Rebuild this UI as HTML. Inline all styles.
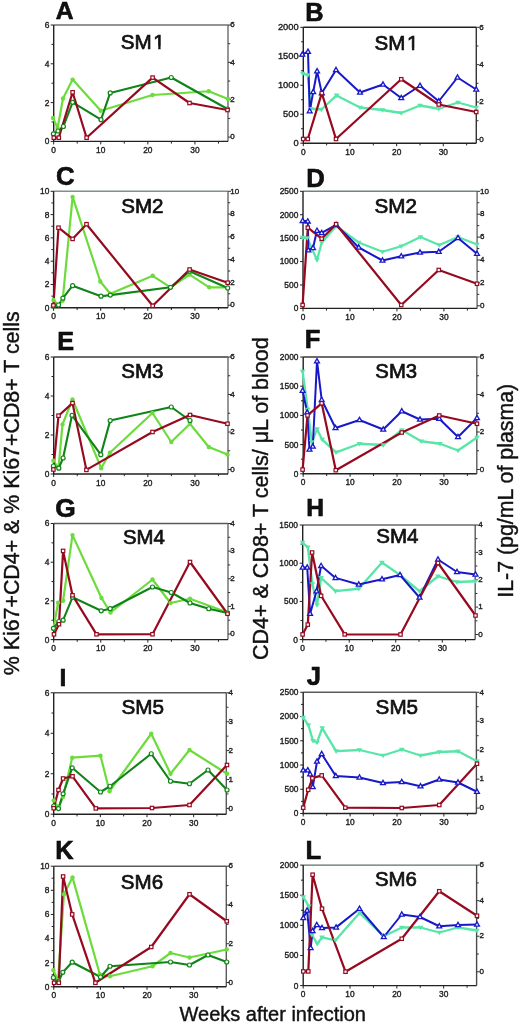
<!DOCTYPE html>
<html><head><meta charset="utf-8"><style>
html,body{margin:0;padding:0;background:#fff;width:520px;height:1024px;overflow:hidden}
svg{display:block;font-family:"Liberation Sans", sans-serif;fill:#111;will-change:transform}
svg text{fill:#111}
.tk{stroke:#222;stroke-width:0.35px}
.ti{stroke:#111;stroke-width:0.75px}
.le{stroke:#000;stroke-width:0.6px}
.ax{stroke:#111;stroke-width:0.4px}
</style></head><body>
<svg width="520" height="1024" viewBox="0 0 520 1024">
<rect width="520" height="1024" fill="#fff"/>
<g><path d="M53.7 25H228" fill="none" stroke="#707070" stroke-width="1.4"/><path d="M228 25V141.4" fill="none" stroke="#6a6a6a" stroke-width="1.4"/><path d="M53.7 25V141.4H228" fill="none" stroke="#222" stroke-width="1.4"/><path d="M50.7 141.4H53.7" stroke="#222" stroke-width="1"/><text transform="translate(49.4 144.3) scale(1.0 1)" text-anchor="end" font-size="8.4" class="tk">0</text><path d="M51.5 122H53.7" stroke="#222" stroke-width="1"/><path d="M50.7 102.6H53.7" stroke="#222" stroke-width="1"/><text transform="translate(49.4 105.5) scale(1.0 1)" text-anchor="end" font-size="8.4" class="tk">2</text><path d="M51.5 83.2H53.7" stroke="#222" stroke-width="1"/><path d="M50.7 63.8H53.7" stroke="#222" stroke-width="1"/><text transform="translate(49.4 66.7) scale(1.0 1)" text-anchor="end" font-size="8.4" class="tk">4</text><path d="M51.5 44.4H53.7" stroke="#222" stroke-width="1"/><path d="M50.7 25H53.7" stroke="#222" stroke-width="1"/><text transform="translate(49.4 27.9) scale(1.0 1)" text-anchor="end" font-size="8.4" class="tk">6</text><path d="M228 137.1H231" stroke="#333" stroke-width="1"/><text transform="translate(230.3 139.3) scale(1.0 1)" font-size="8.0" class="tk">0</text><path d="M228 118.42H230.2" stroke="#333" stroke-width="1"/><path d="M228 99.73H231" stroke="#333" stroke-width="1"/><text transform="translate(230.3 101.93) scale(1.0 1)" font-size="8.0" class="tk">2</text><path d="M228 81.05H230.2" stroke="#333" stroke-width="1"/><path d="M228 62.37H231" stroke="#333" stroke-width="1"/><text transform="translate(230.3 64.57) scale(1.0 1)" font-size="8.0" class="tk">4</text><path d="M228 43.68H230.2" stroke="#333" stroke-width="1"/><path d="M228 25H231" stroke="#333" stroke-width="1"/><text transform="translate(230.3 27.2) scale(1.0 1)" font-size="8.0" class="tk">6</text><path d="M53.7 141.4V144.4" stroke="#222" stroke-width="1"/><text transform="translate(53.7 153) scale(1.0 1)" text-anchor="middle" font-size="8.4" class="tk">0</text><path d="M77.23 141.4V143.6" stroke="#222" stroke-width="1"/><path d="M100.77 141.4V144.4" stroke="#222" stroke-width="1"/><text transform="translate(100.77 153) scale(1.0 1)" text-anchor="middle" font-size="8.4" class="tk">10</text><path d="M124.31 141.4V143.6" stroke="#222" stroke-width="1"/><path d="M147.84 141.4V144.4" stroke="#222" stroke-width="1"/><text transform="translate(147.84 153) scale(1.0 1)" text-anchor="middle" font-size="8.4" class="tk">20</text><path d="M171.38 141.4V143.6" stroke="#222" stroke-width="1"/><path d="M194.91 141.4V144.4" stroke="#222" stroke-width="1"/><text transform="translate(194.91 153) scale(1.0 1)" text-anchor="middle" font-size="8.4" class="tk">30</text><path d="M218.44 141.4V143.6" stroke="#222" stroke-width="1"/><path d="M53 118 L57.6 128 L63 98.5 L72.6 79.6 L100.8 110.8 L152.5 95 L208.75 91.25 L228 99" fill="none" stroke="#6cdc3c" stroke-width="2.2" stroke-linejoin="round"/><path d="M53.4 133.8 L58 131 L63.4 126.5 L72.6 102.3 L101 119.7 L110.2 92.9 L171.25 77.5 L227.5 109" fill="none" stroke="#108418" stroke-width="2.1" stroke-linejoin="round"/><path d="M53.8 137.7 L58.8 137.7 L72.6 92.3 L86.6 137.7 L152.6 77.6 L189.5 103 L227.5 110" fill="none" stroke="#960a20" stroke-width="2.2" stroke-linejoin="round"/><circle cx="53" cy="118" r="2.2" fill="#6cdc3c"/><circle cx="57.6" cy="128" r="2.2" fill="#6cdc3c"/><circle cx="63" cy="98.5" r="2.2" fill="#6cdc3c"/><circle cx="72.6" cy="79.6" r="2.2" fill="#6cdc3c"/><circle cx="100.8" cy="110.8" r="2.2" fill="#6cdc3c"/><circle cx="152.5" cy="95" r="2.2" fill="#6cdc3c"/><circle cx="208.75" cy="91.25" r="2.2" fill="#6cdc3c"/><circle cx="228" cy="99" r="2.2" fill="#6cdc3c"/><circle cx="53.4" cy="133.8" r="2.0" fill="#fff" stroke="#108418" stroke-width="1.2"/><circle cx="58" cy="131" r="2.0" fill="#fff" stroke="#108418" stroke-width="1.2"/><circle cx="63.4" cy="126.5" r="2.0" fill="#fff" stroke="#108418" stroke-width="1.2"/><circle cx="72.6" cy="102.3" r="2.0" fill="#fff" stroke="#108418" stroke-width="1.2"/><circle cx="101" cy="119.7" r="2.0" fill="#fff" stroke="#108418" stroke-width="1.2"/><circle cx="110.2" cy="92.9" r="2.0" fill="#fff" stroke="#108418" stroke-width="1.2"/><circle cx="171.25" cy="77.5" r="2.0" fill="#fff" stroke="#108418" stroke-width="1.2"/><circle cx="227.5" cy="109" r="2.0" fill="#fff" stroke="#108418" stroke-width="1.2"/><rect x="52.1" y="136" width="3.4" height="3.4" fill="#fff" stroke="#960a20" stroke-width="1.2"/><rect x="57.1" y="136" width="3.4" height="3.4" fill="#fff" stroke="#960a20" stroke-width="1.2"/><rect x="70.9" y="90.6" width="3.4" height="3.4" fill="#fff" stroke="#960a20" stroke-width="1.2"/><rect x="84.9" y="136" width="3.4" height="3.4" fill="#fff" stroke="#960a20" stroke-width="1.2"/><rect x="150.9" y="75.9" width="3.4" height="3.4" fill="#fff" stroke="#960a20" stroke-width="1.2"/><rect x="187.8" y="101.3" width="3.4" height="3.4" fill="#fff" stroke="#960a20" stroke-width="1.2"/><rect x="225.8" y="108.3" width="3.4" height="3.4" fill="#fff" stroke="#960a20" stroke-width="1.2"/><text class="le" transform="translate(55.68 18.50) scale(0.966 0.966)" font-size="25.5" font-weight="bold">A</text><text class="ti" transform="translate(120.72 48.64) scale(0.960 0.970)" font-size="21.5">SM<tspan dx="1.72">1</tspan></text><g transform="translate(120.72 48.64) scale(0.960 0.970)"><g transform="translate(1.72 0)"><rect x="32.25" y="-2.37" width="5.12" height="3.87" fill="#fff"/><rect x="39.82" y="-2.37" width="4.90" height="3.87" fill="#fff"/></g></g></g>
<g><path d="M303.3 27.3H476.3" fill="none" stroke="#222" stroke-width="1.4"/><path d="M476.3 27.3V143.2" fill="none" stroke="#333" stroke-width="1.4"/><path d="M303.3 27.3V143.2H476.3" fill="none" stroke="#222" stroke-width="1.4"/><path d="M300.3 143.2H303.3" stroke="#222" stroke-width="1"/><text transform="translate(298.6 146.1) scale(1.0 1)" text-anchor="end" font-size="9.3" class="tk">0</text><path d="M301.1 128.71H303.3" stroke="#222" stroke-width="1"/><path d="M300.3 114.22H303.3" stroke="#222" stroke-width="1"/><text transform="translate(298.6 117.12) scale(1.0 1)" text-anchor="end" font-size="9.3" class="tk">500</text><path d="M301.1 99.74H303.3" stroke="#222" stroke-width="1"/><path d="M300.3 85.25H303.3" stroke="#222" stroke-width="1"/><text transform="translate(298.6 88.15) scale(1.0 1)" text-anchor="end" font-size="9.3" class="tk">1000</text><path d="M301.1 70.76H303.3" stroke="#222" stroke-width="1"/><path d="M300.3 56.27H303.3" stroke="#222" stroke-width="1"/><text transform="translate(298.6 59.17) scale(1.0 1)" text-anchor="end" font-size="9.3" class="tk">1500</text><path d="M301.1 41.79H303.3" stroke="#222" stroke-width="1"/><path d="M300.3 27.3H303.3" stroke="#222" stroke-width="1"/><text transform="translate(298.6 30.2) scale(1.0 1)" text-anchor="end" font-size="9.3" class="tk">2000</text><path d="M476.3 139.4H479.3" stroke="#333" stroke-width="1"/><text transform="translate(479.3 141.6) scale(1.0 1)" font-size="8.0" class="tk">0</text><path d="M476.3 120.72H478.5" stroke="#333" stroke-width="1"/><path d="M476.3 102.03H479.3" stroke="#333" stroke-width="1"/><text transform="translate(479.3 104.23) scale(1.0 1)" font-size="8.0" class="tk">2</text><path d="M476.3 83.35H478.5" stroke="#333" stroke-width="1"/><path d="M476.3 64.67H479.3" stroke="#333" stroke-width="1"/><text transform="translate(479.3 66.87) scale(1.0 1)" font-size="8.0" class="tk">4</text><path d="M476.3 45.98H478.5" stroke="#333" stroke-width="1"/><path d="M476.3 27.3H479.3" stroke="#333" stroke-width="1"/><text transform="translate(479.3 29.5) scale(1.0 1)" font-size="8.0" class="tk">6</text><path d="M303.3 143.2V146.2" stroke="#222" stroke-width="1"/><text transform="translate(303.3 154.8) scale(1.0 1)" text-anchor="middle" font-size="8.4" class="tk">0</text><path d="M326.63 143.2V145.4" stroke="#222" stroke-width="1"/><path d="M349.97 143.2V146.2" stroke="#222" stroke-width="1"/><text transform="translate(349.97 154.8) scale(1.0 1)" text-anchor="middle" font-size="8.4" class="tk">10</text><path d="M373.31 143.2V145.4" stroke="#222" stroke-width="1"/><path d="M396.64 143.2V146.2" stroke="#222" stroke-width="1"/><text transform="translate(396.64 154.8) scale(1.0 1)" text-anchor="middle" font-size="8.4" class="tk">20</text><path d="M419.98 143.2V145.4" stroke="#222" stroke-width="1"/><path d="M443.31 143.2V146.2" stroke="#222" stroke-width="1"/><text transform="translate(443.31 154.8) scale(1.0 1)" text-anchor="middle" font-size="8.4" class="tk">30</text><path d="M466.64 143.2V145.4" stroke="#222" stroke-width="1"/><path d="M302.7 73.6 L307.8 75.2 L310.9 108.75 L321.4 109.5 L336.6 95.4 L360 107.5 L382.5 110 L401.25 113 L420 105.5 L438.75 108.75 L458 102.5 L476.25 107.5" fill="none" stroke="#58e6a8" stroke-width="2.3" stroke-linejoin="round"/><path d="M302.3 54.5 L308 51.7 L309.7 111.1 L313.2 92 L317.1 71.25 L321.8 93.1 L336 70 L360 92.5 L383 84.5 L401.25 98 L420 85.75 L438.75 101.25 L457.5 77.5 L476.25 89.5" fill="none" stroke="#1818c8" stroke-width="2.0" stroke-linejoin="round"/><path d="M303.2 139 L307.8 139 L321.8 93.1 L336 139 L401.25 79.25 L438.75 104.5 L476.25 112" fill="none" stroke="#960a20" stroke-width="2.2" stroke-linejoin="round"/><path d="M302.7 76.36L305.5 71.76L299.9 71.76Z" fill="#58e6a8"/><path d="M307.8 77.96L310.6 73.36L305 73.36Z" fill="#58e6a8"/><path d="M310.9 111.51L313.7 106.91L308.1 106.91Z" fill="#58e6a8"/><path d="M321.4 112.26L324.2 107.66L318.6 107.66Z" fill="#58e6a8"/><path d="M336.6 98.16L339.4 93.56L333.8 93.56Z" fill="#58e6a8"/><path d="M360 110.26L362.8 105.66L357.2 105.66Z" fill="#58e6a8"/><path d="M382.5 112.76L385.3 108.16L379.7 108.16Z" fill="#58e6a8"/><path d="M401.25 115.76L404.05 111.16L398.45 111.16Z" fill="#58e6a8"/><path d="M420 108.26L422.8 103.66L417.2 103.66Z" fill="#58e6a8"/><path d="M438.75 111.51L441.55 106.91L435.95 106.91Z" fill="#58e6a8"/><path d="M458 105.26L460.8 100.66L455.2 100.66Z" fill="#58e6a8"/><path d="M476.25 110.26L479.05 105.66L473.45 105.66Z" fill="#58e6a8"/><path d="M302.3 51.92L304.75 56.22L299.85 56.22Z" fill="#fff" stroke="#1818c8" stroke-width="1.3" stroke-linejoin="miter"/><path d="M308 49.12L310.45 53.42L305.55 53.42Z" fill="#fff" stroke="#1818c8" stroke-width="1.3" stroke-linejoin="miter"/><path d="M309.7 108.52L312.15 112.82L307.25 112.82Z" fill="#fff" stroke="#1818c8" stroke-width="1.3" stroke-linejoin="miter"/><path d="M313.2 89.42L315.65 93.72L310.75 93.72Z" fill="#fff" stroke="#1818c8" stroke-width="1.3" stroke-linejoin="miter"/><path d="M317.1 68.67L319.55 72.97L314.65 72.97Z" fill="#fff" stroke="#1818c8" stroke-width="1.3" stroke-linejoin="miter"/><path d="M321.8 90.52L324.25 94.82L319.35 94.82Z" fill="#fff" stroke="#1818c8" stroke-width="1.3" stroke-linejoin="miter"/><path d="M336 67.42L338.45 71.72L333.55 71.72Z" fill="#fff" stroke="#1818c8" stroke-width="1.3" stroke-linejoin="miter"/><path d="M360 89.92L362.45 94.22L357.55 94.22Z" fill="#fff" stroke="#1818c8" stroke-width="1.3" stroke-linejoin="miter"/><path d="M383 81.92L385.45 86.22L380.55 86.22Z" fill="#fff" stroke="#1818c8" stroke-width="1.3" stroke-linejoin="miter"/><path d="M401.25 95.42L403.7 99.72L398.8 99.72Z" fill="#fff" stroke="#1818c8" stroke-width="1.3" stroke-linejoin="miter"/><path d="M420 83.17L422.45 87.47L417.55 87.47Z" fill="#fff" stroke="#1818c8" stroke-width="1.3" stroke-linejoin="miter"/><path d="M438.75 98.67L441.2 102.97L436.3 102.97Z" fill="#fff" stroke="#1818c8" stroke-width="1.3" stroke-linejoin="miter"/><path d="M457.5 74.92L459.95 79.22L455.05 79.22Z" fill="#fff" stroke="#1818c8" stroke-width="1.3" stroke-linejoin="miter"/><path d="M476.25 86.92L478.7 91.22L473.8 91.22Z" fill="#fff" stroke="#1818c8" stroke-width="1.3" stroke-linejoin="miter"/><rect x="301.5" y="137.3" width="3.4" height="3.4" fill="#fff" stroke="#960a20" stroke-width="1.2"/><rect x="306.1" y="137.3" width="3.4" height="3.4" fill="#fff" stroke="#960a20" stroke-width="1.2"/><rect x="320.1" y="91.4" width="3.4" height="3.4" fill="#fff" stroke="#960a20" stroke-width="1.2"/><rect x="334.3" y="137.3" width="3.4" height="3.4" fill="#fff" stroke="#960a20" stroke-width="1.2"/><rect x="399.55" y="77.55" width="3.4" height="3.4" fill="#fff" stroke="#960a20" stroke-width="1.2"/><rect x="437.05" y="102.8" width="3.4" height="3.4" fill="#fff" stroke="#960a20" stroke-width="1.2"/><rect x="474.55" y="110.3" width="3.4" height="3.4" fill="#fff" stroke="#960a20" stroke-width="1.2"/><text class="le" transform="translate(305.17 20.50) scale(0.995 0.995)" font-size="25.5" font-weight="bold">B</text><text class="ti" transform="translate(374.52 50.24) scale(0.957 0.983)" font-size="21.5">SM<tspan dx="1.72">1</tspan></text><g transform="translate(374.52 50.24) scale(0.957 0.983)"><g transform="translate(1.72 0)"><rect x="32.25" y="-2.37" width="5.12" height="3.87" fill="#fff"/><rect x="39.82" y="-2.37" width="4.90" height="3.87" fill="#fff"/></g></g></g>
<g><path d="M53.6 191.3H228" fill="none" stroke="#7f9085" stroke-width="1.4"/><path d="M228 191.3V307.8" fill="none" stroke="#6a6a6a" stroke-width="1.4"/><path d="M53.6 191.3V307.8H228" fill="none" stroke="#222" stroke-width="1.4"/><path d="M50.6 307.8H53.6" stroke="#222" stroke-width="1"/><text transform="translate(49.3 310.7) scale(1.0 1)" text-anchor="end" font-size="8.4" class="tk">0</text><path d="M51.4 296.15H53.6" stroke="#222" stroke-width="1"/><path d="M50.6 284.5H53.6" stroke="#222" stroke-width="1"/><text transform="translate(49.3 287.4) scale(1.0 1)" text-anchor="end" font-size="8.4" class="tk">2</text><path d="M51.4 272.85H53.6" stroke="#222" stroke-width="1"/><path d="M50.6 261.2H53.6" stroke="#222" stroke-width="1"/><text transform="translate(49.3 264.1) scale(1.0 1)" text-anchor="end" font-size="8.4" class="tk">4</text><path d="M51.4 249.55H53.6" stroke="#222" stroke-width="1"/><path d="M50.6 237.9H53.6" stroke="#222" stroke-width="1"/><text transform="translate(49.3 240.8) scale(1.0 1)" text-anchor="end" font-size="8.4" class="tk">6</text><path d="M51.4 226.25H53.6" stroke="#222" stroke-width="1"/><path d="M50.6 214.6H53.6" stroke="#222" stroke-width="1"/><text transform="translate(49.3 217.5) scale(1.0 1)" text-anchor="end" font-size="8.4" class="tk">8</text><path d="M51.4 202.95H53.6" stroke="#222" stroke-width="1"/><path d="M50.6 191.3H53.6" stroke="#222" stroke-width="1"/><text transform="translate(49.3 194.2) scale(1.0 1)" text-anchor="end" font-size="8.4" class="tk">10</text><path d="M228 305.2H231" stroke="#333" stroke-width="1"/><text transform="translate(230.3 307.4) scale(1.0 1)" font-size="8.0" class="tk">0</text><path d="M228 293.81H230.2" stroke="#333" stroke-width="1"/><path d="M228 282.42H231" stroke="#333" stroke-width="1"/><text transform="translate(230.3 284.62) scale(1.0 1)" font-size="8.0" class="tk">2</text><path d="M228 271.03H230.2" stroke="#333" stroke-width="1"/><path d="M228 259.64H231" stroke="#333" stroke-width="1"/><text transform="translate(230.3 261.84) scale(1.0 1)" font-size="8.0" class="tk">4</text><path d="M228 248.25H230.2" stroke="#333" stroke-width="1"/><path d="M228 236.86H231" stroke="#333" stroke-width="1"/><text transform="translate(230.3 239.06) scale(1.0 1)" font-size="8.0" class="tk">6</text><path d="M228 225.47H230.2" stroke="#333" stroke-width="1"/><path d="M228 214.08H231" stroke="#333" stroke-width="1"/><text transform="translate(230.3 216.28) scale(1.0 1)" font-size="8.0" class="tk">8</text><path d="M228 202.69H230.2" stroke="#333" stroke-width="1"/><path d="M228 191.3H231" stroke="#333" stroke-width="1"/><text transform="translate(230.3 193.5) scale(1.0 1)" font-size="8.0" class="tk">10</text><path d="M53.6 307.8V310.8" stroke="#222" stroke-width="1"/><text transform="translate(53.6 319.4) scale(1.0 1)" text-anchor="middle" font-size="8.4" class="tk">0</text><path d="M77.15 307.8V310" stroke="#222" stroke-width="1"/><path d="M100.7 307.8V310.8" stroke="#222" stroke-width="1"/><text transform="translate(100.7 319.4) scale(1.0 1)" text-anchor="middle" font-size="8.4" class="tk">10</text><path d="M124.25 307.8V310" stroke="#222" stroke-width="1"/><path d="M147.8 307.8V310.8" stroke="#222" stroke-width="1"/><text transform="translate(147.8 319.4) scale(1.0 1)" text-anchor="middle" font-size="8.4" class="tk">20</text><path d="M171.35 307.8V310" stroke="#222" stroke-width="1"/><path d="M194.9 307.8V310.8" stroke="#222" stroke-width="1"/><text transform="translate(194.9 319.4) scale(1.0 1)" text-anchor="middle" font-size="8.4" class="tk">30</text><path d="M218.45 307.8V310" stroke="#222" stroke-width="1"/><path d="M53.5 300 L58.5 305 L62.6 300.8 L72.6 196.9 L100.3 281.5 L110.3 293.8 L152.7 275.8 L170.5 287.3 L189.6 274.6 L209.2 287.3 L227.7 287.3" fill="none" stroke="#6cdc3c" stroke-width="2.2" stroke-linejoin="round"/><path d="M53.4 306 L58.5 305 L62.9 298.2 L72.6 285.7 L101 296.2 L110.3 295.1 L170.5 287.3 L189.6 271.2 L227.7 288" fill="none" stroke="#108418" stroke-width="2.1" stroke-linejoin="round"/><path d="M53.4 305.4 L58.5 227.7 L72.6 238.9 L86.5 224.2 L152.7 305.8 L189.6 269.5 L227.7 282.7" fill="none" stroke="#960a20" stroke-width="2.2" stroke-linejoin="round"/><circle cx="53.5" cy="300" r="2.2" fill="#6cdc3c"/><circle cx="58.5" cy="305" r="2.2" fill="#6cdc3c"/><circle cx="62.6" cy="300.8" r="2.2" fill="#6cdc3c"/><circle cx="72.6" cy="196.9" r="2.2" fill="#6cdc3c"/><circle cx="100.3" cy="281.5" r="2.2" fill="#6cdc3c"/><circle cx="110.3" cy="293.8" r="2.2" fill="#6cdc3c"/><circle cx="152.7" cy="275.8" r="2.2" fill="#6cdc3c"/><circle cx="170.5" cy="287.3" r="2.2" fill="#6cdc3c"/><circle cx="189.6" cy="274.6" r="2.2" fill="#6cdc3c"/><circle cx="209.2" cy="287.3" r="2.2" fill="#6cdc3c"/><circle cx="227.7" cy="287.3" r="2.2" fill="#6cdc3c"/><circle cx="53.4" cy="306" r="2.0" fill="#fff" stroke="#108418" stroke-width="1.2"/><circle cx="58.5" cy="305" r="2.0" fill="#fff" stroke="#108418" stroke-width="1.2"/><circle cx="62.9" cy="298.2" r="2.0" fill="#fff" stroke="#108418" stroke-width="1.2"/><circle cx="72.6" cy="285.7" r="2.0" fill="#fff" stroke="#108418" stroke-width="1.2"/><circle cx="101" cy="296.2" r="2.0" fill="#fff" stroke="#108418" stroke-width="1.2"/><circle cx="110.3" cy="295.1" r="2.0" fill="#fff" stroke="#108418" stroke-width="1.2"/><circle cx="170.5" cy="287.3" r="2.0" fill="#fff" stroke="#108418" stroke-width="1.2"/><circle cx="189.6" cy="271.2" r="2.0" fill="#fff" stroke="#108418" stroke-width="1.2"/><circle cx="227.7" cy="288" r="2.0" fill="#fff" stroke="#108418" stroke-width="1.2"/><rect x="51.7" y="303.7" width="3.4" height="3.4" fill="#fff" stroke="#960a20" stroke-width="1.2"/><rect x="56.8" y="226" width="3.4" height="3.4" fill="#fff" stroke="#960a20" stroke-width="1.2"/><rect x="70.9" y="237.2" width="3.4" height="3.4" fill="#fff" stroke="#960a20" stroke-width="1.2"/><rect x="84.8" y="222.5" width="3.4" height="3.4" fill="#fff" stroke="#960a20" stroke-width="1.2"/><rect x="151" y="304.1" width="3.4" height="3.4" fill="#fff" stroke="#960a20" stroke-width="1.2"/><rect x="187.9" y="267.8" width="3.4" height="3.4" fill="#fff" stroke="#960a20" stroke-width="1.2"/><rect x="226" y="281" width="3.4" height="3.4" fill="#fff" stroke="#960a20" stroke-width="1.2"/><text class="le" transform="translate(55.93 184.84) scale(1.011 1.011)" font-size="25.5" font-weight="bold">C</text><text class="ti" transform="translate(121.22 212.55) scale(0.956 0.937)" font-size="21.5">SM2</text></g>
<g><path d="M303 191.3H477.1" fill="none" stroke="#6f8878" stroke-width="1.4"/><path d="M477.1 191.3V308.4" fill="none" stroke="#6a6a6a" stroke-width="1.4"/><path d="M303 191.3V308.4H477.1" fill="none" stroke="#222" stroke-width="1.4"/><path d="M300 308.4H303" stroke="#222" stroke-width="1"/><text transform="translate(298.3 311.3) scale(1.0 1)" text-anchor="end" font-size="8.4" class="tk">0</text><path d="M300 284.98H303" stroke="#222" stroke-width="1"/><text transform="translate(298.3 287.88) scale(1.0 1)" text-anchor="end" font-size="8.4" class="tk">500</text><path d="M300 261.56H303" stroke="#222" stroke-width="1"/><text transform="translate(298.3 264.46) scale(1.0 1)" text-anchor="end" font-size="8.4" class="tk">1000</text><path d="M300 238.14H303" stroke="#222" stroke-width="1"/><text transform="translate(298.3 241.04) scale(1.0 1)" text-anchor="end" font-size="8.4" class="tk">1500</text><path d="M300 214.72H303" stroke="#222" stroke-width="1"/><text transform="translate(298.3 217.62) scale(1.0 1)" text-anchor="end" font-size="8.4" class="tk">2000</text><path d="M300 191.3H303" stroke="#222" stroke-width="1"/><text transform="translate(298.3 194.2) scale(1.0 1)" text-anchor="end" font-size="8.4" class="tk">2500</text><path d="M477.1 305.8H480.1" stroke="#333" stroke-width="1"/><text transform="translate(480.1 308) scale(1.0 1)" font-size="8.0" class="tk">0</text><path d="M477.1 294.35H479.3" stroke="#333" stroke-width="1"/><path d="M477.1 282.9H480.1" stroke="#333" stroke-width="1"/><text transform="translate(480.1 285.1) scale(1.0 1)" font-size="8.0" class="tk">2</text><path d="M477.1 271.45H479.3" stroke="#333" stroke-width="1"/><path d="M477.1 260H480.1" stroke="#333" stroke-width="1"/><text transform="translate(480.1 262.2) scale(1.0 1)" font-size="8.0" class="tk">4</text><path d="M477.1 248.55H479.3" stroke="#333" stroke-width="1"/><path d="M477.1 237.1H480.1" stroke="#333" stroke-width="1"/><text transform="translate(480.1 239.3) scale(1.0 1)" font-size="8.0" class="tk">6</text><path d="M477.1 225.65H479.3" stroke="#333" stroke-width="1"/><path d="M477.1 214.2H480.1" stroke="#333" stroke-width="1"/><text transform="translate(480.1 216.4) scale(1.0 1)" font-size="8.0" class="tk">8</text><path d="M477.1 202.75H479.3" stroke="#333" stroke-width="1"/><path d="M477.1 191.3H480.1" stroke="#333" stroke-width="1"/><text transform="translate(480.1 193.5) scale(1.0 1)" font-size="8.0" class="tk">10</text><path d="M303 308.4V311.4" stroke="#222" stroke-width="1"/><text transform="translate(303 320) scale(1.0 1)" text-anchor="middle" font-size="8.4" class="tk">0</text><path d="M326.49 308.4V310.6" stroke="#222" stroke-width="1"/><path d="M349.97 308.4V311.4" stroke="#222" stroke-width="1"/><text transform="translate(349.97 320) scale(1.0 1)" text-anchor="middle" font-size="8.4" class="tk">10</text><path d="M373.45 308.4V310.6" stroke="#222" stroke-width="1"/><path d="M396.94 308.4V311.4" stroke="#222" stroke-width="1"/><text transform="translate(396.94 320) scale(1.0 1)" text-anchor="middle" font-size="8.4" class="tk">20</text><path d="M420.43 308.4V310.6" stroke="#222" stroke-width="1"/><path d="M443.91 308.4V311.4" stroke="#222" stroke-width="1"/><text transform="translate(443.91 320) scale(1.0 1)" text-anchor="middle" font-size="8.4" class="tk">30</text><path d="M467.39 308.4V310.6" stroke="#222" stroke-width="1"/><path d="M302.6 237.5 L307.2 238 L317 260 L321.7 242.7 L336.1 226 L358.75 242.5 L382.5 251.75 L401.25 246.25 L420.5 237 L439.25 245 L458 237 L477 244.5" fill="none" stroke="#58e6a8" stroke-width="2.3" stroke-linejoin="round"/><path d="M302.6 220.8 L307.8 221.3 L308.4 250.2 L313 247.9 L317 230.6 L321.7 232.9 L336.1 224.8 L358.75 247.5 L382.5 260.5 L401.25 256.25 L420 252.5 L438.75 251.75 L458 238 L477 253.75" fill="none" stroke="#1818c8" stroke-width="2.0" stroke-linejoin="round"/><path d="M302.6 305 L307.8 227.7 L321.7 238.7 L336.1 224.2 L401.25 305 L438.75 270 L477 283.75" fill="none" stroke="#960a20" stroke-width="2.2" stroke-linejoin="round"/><path d="M302.6 240.26L305.4 235.66L299.8 235.66Z" fill="#58e6a8"/><path d="M307.2 240.76L310 236.16L304.4 236.16Z" fill="#58e6a8"/><path d="M317 262.76L319.8 258.16L314.2 258.16Z" fill="#58e6a8"/><path d="M321.7 245.46L324.5 240.86L318.9 240.86Z" fill="#58e6a8"/><path d="M336.1 228.76L338.9 224.16L333.3 224.16Z" fill="#58e6a8"/><path d="M358.75 245.26L361.55 240.66L355.95 240.66Z" fill="#58e6a8"/><path d="M382.5 254.51L385.3 249.91L379.7 249.91Z" fill="#58e6a8"/><path d="M401.25 249.01L404.05 244.41L398.45 244.41Z" fill="#58e6a8"/><path d="M420.5 239.76L423.3 235.16L417.7 235.16Z" fill="#58e6a8"/><path d="M439.25 247.76L442.05 243.16L436.45 243.16Z" fill="#58e6a8"/><path d="M458 239.76L460.8 235.16L455.2 235.16Z" fill="#58e6a8"/><path d="M477 247.26L479.8 242.66L474.2 242.66Z" fill="#58e6a8"/><path d="M302.6 218.22L305.05 222.52L300.15 222.52Z" fill="#fff" stroke="#1818c8" stroke-width="1.3" stroke-linejoin="miter"/><path d="M307.8 218.72L310.25 223.02L305.35 223.02Z" fill="#fff" stroke="#1818c8" stroke-width="1.3" stroke-linejoin="miter"/><path d="M308.4 247.62L310.85 251.92L305.95 251.92Z" fill="#fff" stroke="#1818c8" stroke-width="1.3" stroke-linejoin="miter"/><path d="M313 245.32L315.45 249.62L310.55 249.62Z" fill="#fff" stroke="#1818c8" stroke-width="1.3" stroke-linejoin="miter"/><path d="M317 228.02L319.45 232.32L314.55 232.32Z" fill="#fff" stroke="#1818c8" stroke-width="1.3" stroke-linejoin="miter"/><path d="M321.7 230.32L324.15 234.62L319.25 234.62Z" fill="#fff" stroke="#1818c8" stroke-width="1.3" stroke-linejoin="miter"/><path d="M336.1 222.22L338.55 226.52L333.65 226.52Z" fill="#fff" stroke="#1818c8" stroke-width="1.3" stroke-linejoin="miter"/><path d="M358.75 244.92L361.2 249.22L356.3 249.22Z" fill="#fff" stroke="#1818c8" stroke-width="1.3" stroke-linejoin="miter"/><path d="M382.5 257.92L384.95 262.22L380.05 262.22Z" fill="#fff" stroke="#1818c8" stroke-width="1.3" stroke-linejoin="miter"/><path d="M401.25 253.67L403.7 257.97L398.8 257.97Z" fill="#fff" stroke="#1818c8" stroke-width="1.3" stroke-linejoin="miter"/><path d="M420 249.92L422.45 254.22L417.55 254.22Z" fill="#fff" stroke="#1818c8" stroke-width="1.3" stroke-linejoin="miter"/><path d="M438.75 249.17L441.2 253.47L436.3 253.47Z" fill="#fff" stroke="#1818c8" stroke-width="1.3" stroke-linejoin="miter"/><path d="M458 235.42L460.45 239.72L455.55 239.72Z" fill="#fff" stroke="#1818c8" stroke-width="1.3" stroke-linejoin="miter"/><path d="M477 251.17L479.45 255.47L474.55 255.47Z" fill="#fff" stroke="#1818c8" stroke-width="1.3" stroke-linejoin="miter"/><rect x="300.9" y="303.3" width="3.4" height="3.4" fill="#fff" stroke="#960a20" stroke-width="1.2"/><rect x="306.1" y="226" width="3.4" height="3.4" fill="#fff" stroke="#960a20" stroke-width="1.2"/><rect x="320" y="237" width="3.4" height="3.4" fill="#fff" stroke="#960a20" stroke-width="1.2"/><rect x="334.4" y="222.5" width="3.4" height="3.4" fill="#fff" stroke="#960a20" stroke-width="1.2"/><rect x="399.55" y="303.3" width="3.4" height="3.4" fill="#fff" stroke="#960a20" stroke-width="1.2"/><rect x="437.05" y="268.3" width="3.4" height="3.4" fill="#fff" stroke="#960a20" stroke-width="1.2"/><rect x="475.3" y="282.05" width="3.4" height="3.4" fill="#fff" stroke="#960a20" stroke-width="1.2"/><text class="le" transform="translate(306.24 186.50) scale(1.006 1.006)" font-size="25.5" font-weight="bold">D</text><text class="ti" transform="translate(374.52 213.04) scale(0.961 0.970)" font-size="21.5">SM2</text></g>
<g><path d="M53.7 357H228" fill="none" stroke="#3a3a3a" stroke-width="1.4"/><path d="M228 357V474" fill="none" stroke="#6a6a6a" stroke-width="1.4"/><path d="M53.7 357V474H228" fill="none" stroke="#222" stroke-width="1.4"/><path d="M50.7 474H53.7" stroke="#222" stroke-width="1"/><text transform="translate(49.4 476.9) scale(1.0 1)" text-anchor="end" font-size="8.4" class="tk">0</text><path d="M51.5 454.5H53.7" stroke="#222" stroke-width="1"/><path d="M50.7 435H53.7" stroke="#222" stroke-width="1"/><text transform="translate(49.4 437.9) scale(1.0 1)" text-anchor="end" font-size="8.4" class="tk">2</text><path d="M51.5 415.5H53.7" stroke="#222" stroke-width="1"/><path d="M50.7 396H53.7" stroke="#222" stroke-width="1"/><text transform="translate(49.4 398.9) scale(1.0 1)" text-anchor="end" font-size="8.4" class="tk">4</text><path d="M51.5 376.5H53.7" stroke="#222" stroke-width="1"/><path d="M50.7 357H53.7" stroke="#222" stroke-width="1"/><text transform="translate(49.4 359.9) scale(1.0 1)" text-anchor="end" font-size="8.4" class="tk">6</text><path d="M228 469.5H231" stroke="#333" stroke-width="1"/><text transform="translate(230.3 471.7) scale(1.0 1)" font-size="8.0" class="tk">0</text><path d="M228 450.75H230.2" stroke="#333" stroke-width="1"/><path d="M228 432H231" stroke="#333" stroke-width="1"/><text transform="translate(230.3 434.2) scale(1.0 1)" font-size="8.0" class="tk">2</text><path d="M228 413.25H230.2" stroke="#333" stroke-width="1"/><path d="M228 394.5H231" stroke="#333" stroke-width="1"/><text transform="translate(230.3 396.7) scale(1.0 1)" font-size="8.0" class="tk">4</text><path d="M228 375.75H230.2" stroke="#333" stroke-width="1"/><path d="M228 357H231" stroke="#333" stroke-width="1"/><text transform="translate(230.3 359.2) scale(1.0 1)" font-size="8.0" class="tk">6</text><path d="M53.7 474V477" stroke="#222" stroke-width="1"/><text transform="translate(53.7 485.6) scale(1.0 1)" text-anchor="middle" font-size="8.4" class="tk">0</text><path d="M77.23 474V476.2" stroke="#222" stroke-width="1"/><path d="M100.77 474V477" stroke="#222" stroke-width="1"/><text transform="translate(100.77 485.6) scale(1.0 1)" text-anchor="middle" font-size="8.4" class="tk">10</text><path d="M124.31 474V476.2" stroke="#222" stroke-width="1"/><path d="M147.84 474V477" stroke="#222" stroke-width="1"/><text transform="translate(147.84 485.6) scale(1.0 1)" text-anchor="middle" font-size="8.4" class="tk">20</text><path d="M171.38 474V476.2" stroke="#222" stroke-width="1"/><path d="M194.91 474V477" stroke="#222" stroke-width="1"/><text transform="translate(194.91 485.6) scale(1.0 1)" text-anchor="middle" font-size="8.4" class="tk">30</text><path d="M218.44 474V476.2" stroke="#222" stroke-width="1"/><path d="M53.4 460.8 L58.5 468.2 L62.5 424.4 L72.5 399.5 L101.2 468.2 L109.9 452.7 L152.5 413 L171.25 442 L190 423.75 L208.75 447 L227.5 454.5" fill="none" stroke="#6cdc3c" stroke-width="2.2" stroke-linejoin="round"/><path d="M53.4 466 L58.8 468.2 L63.1 458 L72 415.3 L100.8 454.7 L110.2 420.6 L171.25 407 L190 420.5" fill="none" stroke="#108418" stroke-width="2.1" stroke-linejoin="round"/><path d="M53.4 469.5 L58.5 415.7 L72.5 403.1 L86.4 469.9 L152.5 432 L190 415 L227.5 423.75" fill="none" stroke="#960a20" stroke-width="2.2" stroke-linejoin="round"/><circle cx="53.4" cy="460.8" r="2.2" fill="#6cdc3c"/><circle cx="58.5" cy="468.2" r="2.2" fill="#6cdc3c"/><circle cx="62.5" cy="424.4" r="2.2" fill="#6cdc3c"/><circle cx="72.5" cy="399.5" r="2.2" fill="#6cdc3c"/><circle cx="101.2" cy="468.2" r="2.2" fill="#6cdc3c"/><circle cx="109.9" cy="452.7" r="2.2" fill="#6cdc3c"/><circle cx="152.5" cy="413" r="2.2" fill="#6cdc3c"/><circle cx="171.25" cy="442" r="2.2" fill="#6cdc3c"/><circle cx="190" cy="423.75" r="2.2" fill="#6cdc3c"/><circle cx="208.75" cy="447" r="2.2" fill="#6cdc3c"/><circle cx="227.5" cy="454.5" r="2.2" fill="#6cdc3c"/><circle cx="53.4" cy="466" r="2.0" fill="#fff" stroke="#108418" stroke-width="1.2"/><circle cx="58.8" cy="468.2" r="2.0" fill="#fff" stroke="#108418" stroke-width="1.2"/><circle cx="63.1" cy="458" r="2.0" fill="#fff" stroke="#108418" stroke-width="1.2"/><circle cx="72" cy="415.3" r="2.0" fill="#fff" stroke="#108418" stroke-width="1.2"/><circle cx="100.8" cy="454.7" r="2.0" fill="#fff" stroke="#108418" stroke-width="1.2"/><circle cx="110.2" cy="420.6" r="2.0" fill="#fff" stroke="#108418" stroke-width="1.2"/><circle cx="171.25" cy="407" r="2.0" fill="#fff" stroke="#108418" stroke-width="1.2"/><circle cx="190" cy="420.5" r="2.0" fill="#fff" stroke="#108418" stroke-width="1.2"/><rect x="51.7" y="467.8" width="3.4" height="3.4" fill="#fff" stroke="#960a20" stroke-width="1.2"/><rect x="56.8" y="414" width="3.4" height="3.4" fill="#fff" stroke="#960a20" stroke-width="1.2"/><rect x="70.8" y="401.4" width="3.4" height="3.4" fill="#fff" stroke="#960a20" stroke-width="1.2"/><rect x="84.7" y="468.2" width="3.4" height="3.4" fill="#fff" stroke="#960a20" stroke-width="1.2"/><rect x="150.8" y="430.3" width="3.4" height="3.4" fill="#fff" stroke="#960a20" stroke-width="1.2"/><rect x="188.3" y="413.3" width="3.4" height="3.4" fill="#fff" stroke="#960a20" stroke-width="1.2"/><rect x="225.8" y="422.05" width="3.4" height="3.4" fill="#fff" stroke="#960a20" stroke-width="1.2"/><text class="le" transform="translate(57.19 349.50) scale(0.989 0.989)" font-size="25.5" font-weight="bold">E</text><text class="ti" transform="translate(121.23 378.04) scale(0.954 0.956)" font-size="21.5">SM3</text></g>
<g><path d="M303.2 357H476.8" fill="none" stroke="#3a3a3a" stroke-width="1.4"/><path d="M476.8 357V473.8" fill="none" stroke="#5a5a5a" stroke-width="1.4"/><path d="M303.2 357V473.8H476.8" fill="none" stroke="#222" stroke-width="1.4"/><path d="M300.2 473.8H303.2" stroke="#222" stroke-width="1"/><text transform="translate(298.5 476.7) scale(1.0 1)" text-anchor="end" font-size="8.4" class="tk">0</text><path d="M301 459.2H303.2" stroke="#222" stroke-width="1"/><path d="M300.2 444.6H303.2" stroke="#222" stroke-width="1"/><text transform="translate(298.5 447.5) scale(1.0 1)" text-anchor="end" font-size="8.4" class="tk">500</text><path d="M301 430H303.2" stroke="#222" stroke-width="1"/><path d="M300.2 415.4H303.2" stroke="#222" stroke-width="1"/><text transform="translate(298.5 418.3) scale(1.0 1)" text-anchor="end" font-size="8.4" class="tk">1000</text><path d="M301 400.8H303.2" stroke="#222" stroke-width="1"/><path d="M300.2 386.2H303.2" stroke="#222" stroke-width="1"/><text transform="translate(298.5 389.1) scale(1.0 1)" text-anchor="end" font-size="8.4" class="tk">1500</text><path d="M301 371.6H303.2" stroke="#222" stroke-width="1"/><path d="M300.2 357H303.2" stroke="#222" stroke-width="1"/><text transform="translate(298.5 359.9) scale(1.0 1)" text-anchor="end" font-size="8.4" class="tk">2000</text><path d="M476.8 469.5H479.8" stroke="#333" stroke-width="1"/><text transform="translate(479.8 471.7) scale(1.0 1)" font-size="8.0" class="tk">0</text><path d="M476.8 450.75H479" stroke="#333" stroke-width="1"/><path d="M476.8 432H479.8" stroke="#333" stroke-width="1"/><text transform="translate(479.8 434.2) scale(1.0 1)" font-size="8.0" class="tk">2</text><path d="M476.8 413.25H479" stroke="#333" stroke-width="1"/><path d="M476.8 394.5H479.8" stroke="#333" stroke-width="1"/><text transform="translate(479.8 396.7) scale(1.0 1)" font-size="8.0" class="tk">4</text><path d="M476.8 375.75H479" stroke="#333" stroke-width="1"/><path d="M476.8 357H479.8" stroke="#333" stroke-width="1"/><text transform="translate(479.8 359.2) scale(1.0 1)" font-size="8.0" class="tk">6</text><path d="M303.2 473.8V476.8" stroke="#222" stroke-width="1"/><text transform="translate(303.2 485.4) scale(1.0 1)" text-anchor="middle" font-size="8.4" class="tk">0</text><path d="M326.65 473.8V476" stroke="#222" stroke-width="1"/><path d="M350.1 473.8V476.8" stroke="#222" stroke-width="1"/><text transform="translate(350.1 485.4) scale(1.0 1)" text-anchor="middle" font-size="8.4" class="tk">10</text><path d="M373.55 473.8V476" stroke="#222" stroke-width="1"/><path d="M397 473.8V476.8" stroke="#222" stroke-width="1"/><text transform="translate(397 485.4) scale(1.0 1)" text-anchor="middle" font-size="8.4" class="tk">20</text><path d="M420.45 473.8V476" stroke="#222" stroke-width="1"/><path d="M443.9 473.8V476.8" stroke="#222" stroke-width="1"/><text transform="translate(443.9 485.4) scale(1.0 1)" text-anchor="middle" font-size="8.4" class="tk">30</text><path d="M467.35 473.8V476" stroke="#222" stroke-width="1"/><path d="M302.6 371.5 L307.8 409.6 L311.8 442 L317 429.2 L322.2 439.6 L336 452.3 L359.5 443.75 L383.25 445 L401.75 430 L421.25 441.25 L440 443.75 L458 450.5 L477 437.5" fill="none" stroke="#58e6a8" stroke-width="2.3" stroke-linejoin="round"/><path d="M302.6 390.6 L307.2 412.5 L309.5 449.4 L312.8 446.5 L317 361.2 L321.7 399.8 L335.5 428 L359.5 420 L383.25 429.5 L401.75 411.25 L420 419.5 L439.25 418.75 L458 437 L477 418" fill="none" stroke="#1818c8" stroke-width="2.0" stroke-linejoin="round"/><path d="M302.6 469.6 L307.5 415.4 L321.7 403.3 L335.8 470.2 L401.75 432.5 L439.25 415.5 L477 423.75" fill="none" stroke="#960a20" stroke-width="2.2" stroke-linejoin="round"/><path d="M302.6 374.26L305.4 369.66L299.8 369.66Z" fill="#58e6a8"/><path d="M307.8 412.36L310.6 407.76L305 407.76Z" fill="#58e6a8"/><path d="M311.8 444.76L314.6 440.16L309 440.16Z" fill="#58e6a8"/><path d="M317 431.96L319.8 427.36L314.2 427.36Z" fill="#58e6a8"/><path d="M322.2 442.36L325 437.76L319.4 437.76Z" fill="#58e6a8"/><path d="M336 455.06L338.8 450.46L333.2 450.46Z" fill="#58e6a8"/><path d="M359.5 446.51L362.3 441.91L356.7 441.91Z" fill="#58e6a8"/><path d="M383.25 447.76L386.05 443.16L380.45 443.16Z" fill="#58e6a8"/><path d="M401.75 432.76L404.55 428.16L398.95 428.16Z" fill="#58e6a8"/><path d="M421.25 444.01L424.05 439.41L418.45 439.41Z" fill="#58e6a8"/><path d="M440 446.51L442.8 441.91L437.2 441.91Z" fill="#58e6a8"/><path d="M458 453.26L460.8 448.66L455.2 448.66Z" fill="#58e6a8"/><path d="M477 440.26L479.8 435.66L474.2 435.66Z" fill="#58e6a8"/><path d="M302.6 388.02L305.05 392.32L300.15 392.32Z" fill="#fff" stroke="#1818c8" stroke-width="1.3" stroke-linejoin="miter"/><path d="M307.2 409.92L309.65 414.22L304.75 414.22Z" fill="#fff" stroke="#1818c8" stroke-width="1.3" stroke-linejoin="miter"/><path d="M309.5 446.82L311.95 451.12L307.05 451.12Z" fill="#fff" stroke="#1818c8" stroke-width="1.3" stroke-linejoin="miter"/><path d="M312.8 443.92L315.25 448.22L310.35 448.22Z" fill="#fff" stroke="#1818c8" stroke-width="1.3" stroke-linejoin="miter"/><path d="M317 358.62L319.45 362.92L314.55 362.92Z" fill="#fff" stroke="#1818c8" stroke-width="1.3" stroke-linejoin="miter"/><path d="M321.7 397.22L324.15 401.52L319.25 401.52Z" fill="#fff" stroke="#1818c8" stroke-width="1.3" stroke-linejoin="miter"/><path d="M335.5 425.42L337.95 429.72L333.05 429.72Z" fill="#fff" stroke="#1818c8" stroke-width="1.3" stroke-linejoin="miter"/><path d="M359.5 417.42L361.95 421.72L357.05 421.72Z" fill="#fff" stroke="#1818c8" stroke-width="1.3" stroke-linejoin="miter"/><path d="M383.25 426.92L385.7 431.22L380.8 431.22Z" fill="#fff" stroke="#1818c8" stroke-width="1.3" stroke-linejoin="miter"/><path d="M401.75 408.67L404.2 412.97L399.3 412.97Z" fill="#fff" stroke="#1818c8" stroke-width="1.3" stroke-linejoin="miter"/><path d="M420 416.92L422.45 421.22L417.55 421.22Z" fill="#fff" stroke="#1818c8" stroke-width="1.3" stroke-linejoin="miter"/><path d="M439.25 416.17L441.7 420.47L436.8 420.47Z" fill="#fff" stroke="#1818c8" stroke-width="1.3" stroke-linejoin="miter"/><path d="M458 434.42L460.45 438.72L455.55 438.72Z" fill="#fff" stroke="#1818c8" stroke-width="1.3" stroke-linejoin="miter"/><path d="M477 415.42L479.45 419.72L474.55 419.72Z" fill="#fff" stroke="#1818c8" stroke-width="1.3" stroke-linejoin="miter"/><rect x="300.9" y="467.9" width="3.4" height="3.4" fill="#fff" stroke="#960a20" stroke-width="1.2"/><rect x="305.8" y="413.7" width="3.4" height="3.4" fill="#fff" stroke="#960a20" stroke-width="1.2"/><rect x="320" y="401.6" width="3.4" height="3.4" fill="#fff" stroke="#960a20" stroke-width="1.2"/><rect x="334.1" y="468.5" width="3.4" height="3.4" fill="#fff" stroke="#960a20" stroke-width="1.2"/><rect x="400.05" y="430.8" width="3.4" height="3.4" fill="#fff" stroke="#960a20" stroke-width="1.2"/><rect x="437.55" y="413.8" width="3.4" height="3.4" fill="#fff" stroke="#960a20" stroke-width="1.2"/><rect x="475.3" y="422.05" width="3.4" height="3.4" fill="#fff" stroke="#960a20" stroke-width="1.2"/><text class="le" transform="translate(304.82 348.13) scale(1.002 1.002)" font-size="25.5" font-weight="bold">F</text><text class="ti" transform="translate(375.34 377.55) scale(0.944 0.937)" font-size="21.5">SM3</text></g>
<g><path d="M53.7 523.5H228" fill="none" stroke="#5a5a5a" stroke-width="1.4"/><path d="M228 523.5V639.6" fill="none" stroke="#6a6a6a" stroke-width="1.4"/><path d="M53.7 523.5V639.6H228" fill="none" stroke="#222" stroke-width="1.4"/><path d="M50.7 639.6H53.7" stroke="#222" stroke-width="1"/><text transform="translate(49.4 642.5) scale(1.0 1)" text-anchor="end" font-size="8.4" class="tk">0</text><path d="M51.5 620.25H53.7" stroke="#222" stroke-width="1"/><path d="M50.7 600.9H53.7" stroke="#222" stroke-width="1"/><text transform="translate(49.4 603.8) scale(1.0 1)" text-anchor="end" font-size="8.4" class="tk">2</text><path d="M51.5 581.55H53.7" stroke="#222" stroke-width="1"/><path d="M50.7 562.2H53.7" stroke="#222" stroke-width="1"/><text transform="translate(49.4 565.1) scale(1.0 1)" text-anchor="end" font-size="8.4" class="tk">4</text><path d="M51.5 542.85H53.7" stroke="#222" stroke-width="1"/><path d="M50.7 523.5H53.7" stroke="#222" stroke-width="1"/><text transform="translate(49.4 526.4) scale(1.0 1)" text-anchor="end" font-size="8.4" class="tk">6</text><path d="M228 634H231" stroke="#333" stroke-width="1"/><text transform="translate(230.3 636.2) scale(1.0 1)" font-size="8.0" class="tk">0</text><path d="M228 620.19H230.2" stroke="#333" stroke-width="1"/><path d="M228 606.38H231" stroke="#333" stroke-width="1"/><text transform="translate(230.3 608.58) scale(1.0 1)" font-size="8.0" class="tk">1</text><path d="M228 592.56H230.2" stroke="#333" stroke-width="1"/><path d="M228 578.75H231" stroke="#333" stroke-width="1"/><text transform="translate(230.3 580.95) scale(1.0 1)" font-size="8.0" class="tk">2</text><path d="M228 564.94H230.2" stroke="#333" stroke-width="1"/><path d="M228 551.12H231" stroke="#333" stroke-width="1"/><text transform="translate(230.3 553.33) scale(1.0 1)" font-size="8.0" class="tk">3</text><path d="M228 537.31H230.2" stroke="#333" stroke-width="1"/><path d="M228 523.5H231" stroke="#333" stroke-width="1"/><text transform="translate(230.3 525.7) scale(1.0 1)" font-size="8.0" class="tk">4</text><path d="M53.7 639.6V642.6" stroke="#222" stroke-width="1"/><text transform="translate(53.7 651.2) scale(1.0 1)" text-anchor="middle" font-size="8.4" class="tk">0</text><path d="M77.23 639.6V641.8" stroke="#222" stroke-width="1"/><path d="M100.77 639.6V642.6" stroke="#222" stroke-width="1"/><text transform="translate(100.77 651.2) scale(1.0 1)" text-anchor="middle" font-size="8.4" class="tk">10</text><path d="M124.31 639.6V641.8" stroke="#222" stroke-width="1"/><path d="M147.84 639.6V642.6" stroke="#222" stroke-width="1"/><text transform="translate(147.84 651.2) scale(1.0 1)" text-anchor="middle" font-size="8.4" class="tk">20</text><path d="M171.38 639.6V641.8" stroke="#222" stroke-width="1"/><path d="M194.91 639.6V642.6" stroke="#222" stroke-width="1"/><text transform="translate(194.91 651.2) scale(1.0 1)" text-anchor="middle" font-size="8.4" class="tk">30</text><path d="M218.44 639.6V641.8" stroke="#222" stroke-width="1"/><path d="M53.4 629 L58.1 602.7 L63.1 600.7 L72.5 535.1 L101.5 598 L110.5 612.5 L152.5 579.5 L170.5 603 L190 598.75 L227.5 612.5" fill="none" stroke="#6cdc3c" stroke-width="2.2" stroke-linejoin="round"/><path d="M53.4 628.3 L58.8 621.5 L63.1 620.2 L72.5 597.3 L101.2 610.8 L110.2 608.7 L152.5 587 L171.25 592.5 L190 603 L208.75 608.75 L227.5 613" fill="none" stroke="#108418" stroke-width="2.1" stroke-linejoin="round"/><path d="M54 634.3 L59 624.2 L63.1 550.9 L72.5 595.3 L96.5 634.3 L152.5 634.25 L190 562 L227.5 613.75" fill="none" stroke="#960a20" stroke-width="2.2" stroke-linejoin="round"/><circle cx="53.4" cy="629" r="2.2" fill="#6cdc3c"/><circle cx="58.1" cy="602.7" r="2.2" fill="#6cdc3c"/><circle cx="63.1" cy="600.7" r="2.2" fill="#6cdc3c"/><circle cx="72.5" cy="535.1" r="2.2" fill="#6cdc3c"/><circle cx="101.5" cy="598" r="2.2" fill="#6cdc3c"/><circle cx="110.5" cy="612.5" r="2.2" fill="#6cdc3c"/><circle cx="152.5" cy="579.5" r="2.2" fill="#6cdc3c"/><circle cx="170.5" cy="603" r="2.2" fill="#6cdc3c"/><circle cx="190" cy="598.75" r="2.2" fill="#6cdc3c"/><circle cx="227.5" cy="612.5" r="2.2" fill="#6cdc3c"/><circle cx="53.4" cy="628.3" r="2.0" fill="#fff" stroke="#108418" stroke-width="1.2"/><circle cx="58.8" cy="621.5" r="2.0" fill="#fff" stroke="#108418" stroke-width="1.2"/><circle cx="63.1" cy="620.2" r="2.0" fill="#fff" stroke="#108418" stroke-width="1.2"/><circle cx="72.5" cy="597.3" r="2.0" fill="#fff" stroke="#108418" stroke-width="1.2"/><circle cx="101.2" cy="610.8" r="2.0" fill="#fff" stroke="#108418" stroke-width="1.2"/><circle cx="110.2" cy="608.7" r="2.0" fill="#fff" stroke="#108418" stroke-width="1.2"/><circle cx="152.5" cy="587" r="2.0" fill="#fff" stroke="#108418" stroke-width="1.2"/><circle cx="171.25" cy="592.5" r="2.0" fill="#fff" stroke="#108418" stroke-width="1.2"/><circle cx="190" cy="603" r="2.0" fill="#fff" stroke="#108418" stroke-width="1.2"/><circle cx="208.75" cy="608.75" r="2.0" fill="#fff" stroke="#108418" stroke-width="1.2"/><circle cx="227.5" cy="613" r="2.0" fill="#fff" stroke="#108418" stroke-width="1.2"/><rect x="52.3" y="632.6" width="3.4" height="3.4" fill="#fff" stroke="#960a20" stroke-width="1.2"/><rect x="57.3" y="622.5" width="3.4" height="3.4" fill="#fff" stroke="#960a20" stroke-width="1.2"/><rect x="61.4" y="549.2" width="3.4" height="3.4" fill="#fff" stroke="#960a20" stroke-width="1.2"/><rect x="70.8" y="593.6" width="3.4" height="3.4" fill="#fff" stroke="#960a20" stroke-width="1.2"/><rect x="94.8" y="632.6" width="3.4" height="3.4" fill="#fff" stroke="#960a20" stroke-width="1.2"/><rect x="150.8" y="632.55" width="3.4" height="3.4" fill="#fff" stroke="#960a20" stroke-width="1.2"/><rect x="188.3" y="560.3" width="3.4" height="3.4" fill="#fff" stroke="#960a20" stroke-width="1.2"/><rect x="225.8" y="612.05" width="3.4" height="3.4" fill="#fff" stroke="#960a20" stroke-width="1.2"/><text class="le" transform="translate(55.21 517.24) scale(1.033 1.033)" font-size="25.5" font-weight="bold">G</text><text class="ti" transform="translate(122.93 543.65) scale(0.947 0.950)" font-size="21.5">SM4</text></g>
<g><path d="M302.7 525H475.2" fill="none" stroke="#6a6a6a" stroke-width="1.4"/><path d="M475.2 525V639.6" fill="none" stroke="#5a5a5a" stroke-width="1.4"/><path d="M302.7 525V639.6H475.2" fill="none" stroke="#222" stroke-width="1.4"/><path d="M299.7 639.6H302.7" stroke="#222" stroke-width="1"/><text transform="translate(298 642.5) scale(1.0 1)" text-anchor="end" font-size="8.4" class="tk">0</text><path d="M300.5 620.5H302.7" stroke="#222" stroke-width="1"/><path d="M299.7 601.4H302.7" stroke="#222" stroke-width="1"/><text transform="translate(298 604.3) scale(1.0 1)" text-anchor="end" font-size="8.4" class="tk">500</text><path d="M300.5 582.3H302.7" stroke="#222" stroke-width="1"/><path d="M299.7 563.2H302.7" stroke="#222" stroke-width="1"/><text transform="translate(298 566.1) scale(1.0 1)" text-anchor="end" font-size="8.4" class="tk">1000</text><path d="M300.5 544.1H302.7" stroke="#222" stroke-width="1"/><path d="M299.7 525H302.7" stroke="#222" stroke-width="1"/><text transform="translate(298 527.9) scale(1.0 1)" text-anchor="end" font-size="8.4" class="tk">1500</text><path d="M475.2 634.5H478.2" stroke="#333" stroke-width="1"/><text transform="translate(478.2 636.7) scale(1.0 1)" font-size="8.0" class="tk">0</text><path d="M475.2 620.81H477.4" stroke="#333" stroke-width="1"/><path d="M475.2 607.12H478.2" stroke="#333" stroke-width="1"/><text transform="translate(478.2 609.33) scale(1.0 1)" font-size="8.0" class="tk">1</text><path d="M475.2 593.44H477.4" stroke="#333" stroke-width="1"/><path d="M475.2 579.75H478.2" stroke="#333" stroke-width="1"/><text transform="translate(478.2 581.95) scale(1.0 1)" font-size="8.0" class="tk">2</text><path d="M475.2 566.06H477.4" stroke="#333" stroke-width="1"/><path d="M475.2 552.38H478.2" stroke="#333" stroke-width="1"/><text transform="translate(478.2 554.58) scale(1.0 1)" font-size="8.0" class="tk">3</text><path d="M475.2 538.69H477.4" stroke="#333" stroke-width="1"/><path d="M475.2 525H478.2" stroke="#333" stroke-width="1"/><text transform="translate(478.2 527.2) scale(1.0 1)" font-size="8.0" class="tk">4</text><path d="M302.7 639.6V642.6" stroke="#222" stroke-width="1"/><text transform="translate(302.7 651.2) scale(1.0 1)" text-anchor="middle" font-size="8.4" class="tk">0</text><path d="M325.96 639.6V641.8" stroke="#222" stroke-width="1"/><path d="M349.23 639.6V642.6" stroke="#222" stroke-width="1"/><text transform="translate(349.23 651.2) scale(1.0 1)" text-anchor="middle" font-size="8.4" class="tk">10</text><path d="M372.5 639.6V641.8" stroke="#222" stroke-width="1"/><path d="M395.76 639.6V642.6" stroke="#222" stroke-width="1"/><text transform="translate(395.76 651.2) scale(1.0 1)" text-anchor="middle" font-size="8.4" class="tk">20</text><path d="M419.02 639.6V641.8" stroke="#222" stroke-width="1"/><path d="M442.29 639.6V642.6" stroke="#222" stroke-width="1"/><text transform="translate(442.29 651.2) scale(1.0 1)" text-anchor="middle" font-size="8.4" class="tk">30</text><path d="M465.55 639.6V641.8" stroke="#222" stroke-width="1"/><path d="M302.6 542.7 L307.8 547.3 L312.4 584.2 L317 605 L321.1 577.9 L335.5 591.2 L358.75 588.75 L382 562.5 L400 575 L419.5 591.25 L438 576.25 L457 582 L475.5 581.25" fill="none" stroke="#58e6a8" stroke-width="2.3" stroke-linejoin="round"/><path d="M302.6 567.5 L307.2 567.5 L310.1 613.7 L316.5 591.2 L321.1 565.8 L335.5 577.9 L358.75 584.5 L382 579.25 L400 575 L419.5 597.5 L438 559.5 L457 572 L475.5 574.5" fill="none" stroke="#1818c8" stroke-width="2.0" stroke-linejoin="round"/><path d="M302.6 634.4 L307.8 624.6 L312.1 552.5 L321.1 595.8 L344.7 634.4 L400.5 634.5 L438 563 L475.5 615.5" fill="none" stroke="#960a20" stroke-width="2.2" stroke-linejoin="round"/><path d="M302.6 545.46L305.4 540.86L299.8 540.86Z" fill="#58e6a8"/><path d="M307.8 550.06L310.6 545.46L305 545.46Z" fill="#58e6a8"/><path d="M312.4 586.96L315.2 582.36L309.6 582.36Z" fill="#58e6a8"/><path d="M317 607.76L319.8 603.16L314.2 603.16Z" fill="#58e6a8"/><path d="M321.1 580.66L323.9 576.06L318.3 576.06Z" fill="#58e6a8"/><path d="M335.5 593.96L338.3 589.36L332.7 589.36Z" fill="#58e6a8"/><path d="M358.75 591.51L361.55 586.91L355.95 586.91Z" fill="#58e6a8"/><path d="M382 565.26L384.8 560.66L379.2 560.66Z" fill="#58e6a8"/><path d="M400 577.76L402.8 573.16L397.2 573.16Z" fill="#58e6a8"/><path d="M419.5 594.01L422.3 589.41L416.7 589.41Z" fill="#58e6a8"/><path d="M438 579.01L440.8 574.41L435.2 574.41Z" fill="#58e6a8"/><path d="M457 584.76L459.8 580.16L454.2 580.16Z" fill="#58e6a8"/><path d="M475.5 584.01L478.3 579.41L472.7 579.41Z" fill="#58e6a8"/><path d="M302.6 564.92L305.05 569.22L300.15 569.22Z" fill="#fff" stroke="#1818c8" stroke-width="1.3" stroke-linejoin="miter"/><path d="M307.2 564.92L309.65 569.22L304.75 569.22Z" fill="#fff" stroke="#1818c8" stroke-width="1.3" stroke-linejoin="miter"/><path d="M310.1 611.12L312.55 615.42L307.65 615.42Z" fill="#fff" stroke="#1818c8" stroke-width="1.3" stroke-linejoin="miter"/><path d="M316.5 588.62L318.95 592.92L314.05 592.92Z" fill="#fff" stroke="#1818c8" stroke-width="1.3" stroke-linejoin="miter"/><path d="M321.1 563.22L323.55 567.52L318.65 567.52Z" fill="#fff" stroke="#1818c8" stroke-width="1.3" stroke-linejoin="miter"/><path d="M335.5 575.32L337.95 579.62L333.05 579.62Z" fill="#fff" stroke="#1818c8" stroke-width="1.3" stroke-linejoin="miter"/><path d="M358.75 581.92L361.2 586.22L356.3 586.22Z" fill="#fff" stroke="#1818c8" stroke-width="1.3" stroke-linejoin="miter"/><path d="M382 576.67L384.45 580.97L379.55 580.97Z" fill="#fff" stroke="#1818c8" stroke-width="1.3" stroke-linejoin="miter"/><path d="M400 572.42L402.45 576.72L397.55 576.72Z" fill="#fff" stroke="#1818c8" stroke-width="1.3" stroke-linejoin="miter"/><path d="M419.5 594.92L421.95 599.22L417.05 599.22Z" fill="#fff" stroke="#1818c8" stroke-width="1.3" stroke-linejoin="miter"/><path d="M438 556.92L440.45 561.22L435.55 561.22Z" fill="#fff" stroke="#1818c8" stroke-width="1.3" stroke-linejoin="miter"/><path d="M457 569.42L459.45 573.72L454.55 573.72Z" fill="#fff" stroke="#1818c8" stroke-width="1.3" stroke-linejoin="miter"/><path d="M475.5 571.92L477.95 576.22L473.05 576.22Z" fill="#fff" stroke="#1818c8" stroke-width="1.3" stroke-linejoin="miter"/><rect x="300.9" y="632.7" width="3.4" height="3.4" fill="#fff" stroke="#960a20" stroke-width="1.2"/><rect x="306.1" y="622.9" width="3.4" height="3.4" fill="#fff" stroke="#960a20" stroke-width="1.2"/><rect x="310.4" y="550.8" width="3.4" height="3.4" fill="#fff" stroke="#960a20" stroke-width="1.2"/><rect x="319.4" y="594.1" width="3.4" height="3.4" fill="#fff" stroke="#960a20" stroke-width="1.2"/><rect x="343" y="632.7" width="3.4" height="3.4" fill="#fff" stroke="#960a20" stroke-width="1.2"/><rect x="398.8" y="632.8" width="3.4" height="3.4" fill="#fff" stroke="#960a20" stroke-width="1.2"/><rect x="436.3" y="561.3" width="3.4" height="3.4" fill="#fff" stroke="#960a20" stroke-width="1.2"/><rect x="473.8" y="613.8" width="3.4" height="3.4" fill="#fff" stroke="#960a20" stroke-width="1.2"/><text class="le" transform="translate(306.13 515.50) scale(0.966 0.966)" font-size="25.5" font-weight="bold">H</text><text class="ti" transform="translate(376.23 543.24) scale(0.954 0.956)" font-size="21.5">SM4</text></g>
<g><path d="M53.7 692.8H226.3" fill="none" stroke="#5a5a5a" stroke-width="1.4"/><path d="M226.3 692.8V814.2" fill="none" stroke="#5a5a5a" stroke-width="1.4"/><path d="M53.7 692.8V814.2H226.3" fill="none" stroke="#222" stroke-width="1.4"/><path d="M50.7 814.2H53.7" stroke="#222" stroke-width="1"/><text transform="translate(49.4 817.1) scale(1.0 1)" text-anchor="end" font-size="8.4" class="tk">0</text><path d="M51.5 793.97H53.7" stroke="#222" stroke-width="1"/><path d="M50.7 773.73H53.7" stroke="#222" stroke-width="1"/><text transform="translate(49.4 776.63) scale(1.0 1)" text-anchor="end" font-size="8.4" class="tk">2</text><path d="M51.5 753.5H53.7" stroke="#222" stroke-width="1"/><path d="M50.7 733.27H53.7" stroke="#222" stroke-width="1"/><text transform="translate(49.4 736.17) scale(1.0 1)" text-anchor="end" font-size="8.4" class="tk">4</text><path d="M51.5 713.03H53.7" stroke="#222" stroke-width="1"/><path d="M50.7 692.8H53.7" stroke="#222" stroke-width="1"/><text transform="translate(49.4 695.7) scale(1.0 1)" text-anchor="end" font-size="8.4" class="tk">6</text><path d="M226.3 808.4H229.3" stroke="#333" stroke-width="1"/><text transform="translate(228.6 810.6) scale(1.0 1)" font-size="8.0" class="tk">0</text><path d="M226.3 793.95H228.5" stroke="#333" stroke-width="1"/><path d="M226.3 779.5H229.3" stroke="#333" stroke-width="1"/><text transform="translate(228.6 781.7) scale(1.0 1)" font-size="8.0" class="tk">1</text><path d="M226.3 765.05H228.5" stroke="#333" stroke-width="1"/><path d="M226.3 750.6H229.3" stroke="#333" stroke-width="1"/><text transform="translate(228.6 752.8) scale(1.0 1)" font-size="8.0" class="tk">2</text><path d="M226.3 736.15H228.5" stroke="#333" stroke-width="1"/><path d="M226.3 721.7H229.3" stroke="#333" stroke-width="1"/><text transform="translate(228.6 723.9) scale(1.0 1)" font-size="8.0" class="tk">3</text><path d="M226.3 707.25H228.5" stroke="#333" stroke-width="1"/><path d="M226.3 692.8H229.3" stroke="#333" stroke-width="1"/><text transform="translate(228.6 695) scale(1.0 1)" font-size="8.0" class="tk">4</text><path d="M53.7 814.2V817.2" stroke="#222" stroke-width="1"/><text transform="translate(53.7 825.8) scale(1.0 1)" text-anchor="middle" font-size="8.4" class="tk">0</text><path d="M77.03 814.2V816.4" stroke="#222" stroke-width="1"/><path d="M100.35 814.2V817.2" stroke="#222" stroke-width="1"/><text transform="translate(100.35 825.8) scale(1.0 1)" text-anchor="middle" font-size="8.4" class="tk">10</text><path d="M123.67 814.2V816.4" stroke="#222" stroke-width="1"/><path d="M147 814.2V817.2" stroke="#222" stroke-width="1"/><text transform="translate(147 825.8) scale(1.0 1)" text-anchor="middle" font-size="8.4" class="tk">20</text><path d="M170.32 814.2V816.4" stroke="#222" stroke-width="1"/><path d="M193.65 814.2V817.2" stroke="#222" stroke-width="1"/><text transform="translate(193.65 825.8) scale(1.0 1)" text-anchor="middle" font-size="8.4" class="tk">30</text><path d="M216.98 814.2V816.4" stroke="#222" stroke-width="1"/><path d="M53.7 800.5 L58.5 807.5 L63.1 796.7 L72.2 757.7 L100.5 755.7 L109.5 791.25 L151.25 733.75 L170.5 773.75 L189.5 750 L227 773.75" fill="none" stroke="#6cdc3c" stroke-width="2.2" stroke-linejoin="round"/><path d="M53.7 806 L58.5 808.6 L63.1 793.8 L72.2 767.8 L100.5 792 L110 786.25 L151.25 753.75 L170.5 781.25 L189.5 783.75 L208 770 L227 790" fill="none" stroke="#108418" stroke-width="2.1" stroke-linejoin="round"/><path d="M53.7 808.2 L58.5 790 L63.1 778.5 L72.5 776.3 L95.8 808.4 L152 808 L189.5 805 L227 765" fill="none" stroke="#960a20" stroke-width="2.2" stroke-linejoin="round"/><circle cx="53.7" cy="800.5" r="2.2" fill="#6cdc3c"/><circle cx="58.5" cy="807.5" r="2.2" fill="#6cdc3c"/><circle cx="63.1" cy="796.7" r="2.2" fill="#6cdc3c"/><circle cx="72.2" cy="757.7" r="2.2" fill="#6cdc3c"/><circle cx="100.5" cy="755.7" r="2.2" fill="#6cdc3c"/><circle cx="109.5" cy="791.25" r="2.2" fill="#6cdc3c"/><circle cx="151.25" cy="733.75" r="2.2" fill="#6cdc3c"/><circle cx="170.5" cy="773.75" r="2.2" fill="#6cdc3c"/><circle cx="189.5" cy="750" r="2.2" fill="#6cdc3c"/><circle cx="227" cy="773.75" r="2.2" fill="#6cdc3c"/><circle cx="53.7" cy="806" r="2.0" fill="#fff" stroke="#108418" stroke-width="1.2"/><circle cx="58.5" cy="808.6" r="2.0" fill="#fff" stroke="#108418" stroke-width="1.2"/><circle cx="63.1" cy="793.8" r="2.0" fill="#fff" stroke="#108418" stroke-width="1.2"/><circle cx="72.2" cy="767.8" r="2.0" fill="#fff" stroke="#108418" stroke-width="1.2"/><circle cx="100.5" cy="792" r="2.0" fill="#fff" stroke="#108418" stroke-width="1.2"/><circle cx="110" cy="786.25" r="2.0" fill="#fff" stroke="#108418" stroke-width="1.2"/><circle cx="151.25" cy="753.75" r="2.0" fill="#fff" stroke="#108418" stroke-width="1.2"/><circle cx="170.5" cy="781.25" r="2.0" fill="#fff" stroke="#108418" stroke-width="1.2"/><circle cx="189.5" cy="783.75" r="2.0" fill="#fff" stroke="#108418" stroke-width="1.2"/><circle cx="208" cy="770" r="2.0" fill="#fff" stroke="#108418" stroke-width="1.2"/><circle cx="227" cy="790" r="2.0" fill="#fff" stroke="#108418" stroke-width="1.2"/><rect x="52" y="806.5" width="3.4" height="3.4" fill="#fff" stroke="#960a20" stroke-width="1.2"/><rect x="56.8" y="788.3" width="3.4" height="3.4" fill="#fff" stroke="#960a20" stroke-width="1.2"/><rect x="61.4" y="776.8" width="3.4" height="3.4" fill="#fff" stroke="#960a20" stroke-width="1.2"/><rect x="70.8" y="774.6" width="3.4" height="3.4" fill="#fff" stroke="#960a20" stroke-width="1.2"/><rect x="94.1" y="806.7" width="3.4" height="3.4" fill="#fff" stroke="#960a20" stroke-width="1.2"/><rect x="150.3" y="806.3" width="3.4" height="3.4" fill="#fff" stroke="#960a20" stroke-width="1.2"/><rect x="187.8" y="803.3" width="3.4" height="3.4" fill="#fff" stroke="#960a20" stroke-width="1.2"/><rect x="225.3" y="763.3" width="3.4" height="3.4" fill="#fff" stroke="#960a20" stroke-width="1.2"/><text class="le" transform="translate(59.59 685.90) scale(0.972 0.972)" font-size="25.5" font-weight="bold">I</text><text class="ti" transform="translate(121.52 714.34) scale(0.963 0.970)" font-size="21.5">SM5</text></g>
<g><path d="M303.2 692.3H476.4" fill="none" stroke="#5a5a5a" stroke-width="1.4"/><path d="M476.4 692.3V813.5" fill="none" stroke="#4a4a4a" stroke-width="1.4"/><path d="M303.2 692.3V813.5H476.4" fill="none" stroke="#222" stroke-width="1.4"/><path d="M300.2 813.5H303.2" stroke="#222" stroke-width="1"/><text transform="translate(298.5 816.4) scale(1.0 1)" text-anchor="end" font-size="8.4" class="tk">0</text><path d="M301 801.38H303.2" stroke="#222" stroke-width="1"/><path d="M300.2 789.26H303.2" stroke="#222" stroke-width="1"/><text transform="translate(298.5 792.16) scale(1.0 1)" text-anchor="end" font-size="8.4" class="tk">500</text><path d="M301 777.14H303.2" stroke="#222" stroke-width="1"/><path d="M300.2 765.02H303.2" stroke="#222" stroke-width="1"/><text transform="translate(298.5 767.92) scale(1.0 1)" text-anchor="end" font-size="8.4" class="tk">1000</text><path d="M301 752.9H303.2" stroke="#222" stroke-width="1"/><path d="M300.2 740.78H303.2" stroke="#222" stroke-width="1"/><text transform="translate(298.5 743.68) scale(1.0 1)" text-anchor="end" font-size="8.4" class="tk">1500</text><path d="M301 728.66H303.2" stroke="#222" stroke-width="1"/><path d="M300.2 716.54H303.2" stroke="#222" stroke-width="1"/><text transform="translate(298.5 719.44) scale(1.0 1)" text-anchor="end" font-size="8.4" class="tk">2000</text><path d="M301 704.42H303.2" stroke="#222" stroke-width="1"/><path d="M300.2 692.3H303.2" stroke="#222" stroke-width="1"/><text transform="translate(298.5 695.2) scale(1.0 1)" text-anchor="end" font-size="8.4" class="tk">2500</text><path d="M476.4 808.1H479.4" stroke="#333" stroke-width="1"/><text transform="translate(479.4 810.3) scale(1.0 1)" font-size="8.0" class="tk">0</text><path d="M476.4 793.62H478.6" stroke="#333" stroke-width="1"/><path d="M476.4 779.15H479.4" stroke="#333" stroke-width="1"/><text transform="translate(479.4 781.35) scale(1.0 1)" font-size="8.0" class="tk">1</text><path d="M476.4 764.67H478.6" stroke="#333" stroke-width="1"/><path d="M476.4 750.2H479.4" stroke="#333" stroke-width="1"/><text transform="translate(479.4 752.4) scale(1.0 1)" font-size="8.0" class="tk">2</text><path d="M476.4 735.73H478.6" stroke="#333" stroke-width="1"/><path d="M476.4 721.25H479.4" stroke="#333" stroke-width="1"/><text transform="translate(479.4 723.45) scale(1.0 1)" font-size="8.0" class="tk">3</text><path d="M476.4 706.77H478.6" stroke="#333" stroke-width="1"/><path d="M476.4 692.3H479.4" stroke="#333" stroke-width="1"/><text transform="translate(479.4 694.5) scale(1.0 1)" font-size="8.0" class="tk">4</text><path d="M303.2 813.5V816.5" stroke="#222" stroke-width="1"/><text transform="translate(303.2 825.1) scale(1.0 1)" text-anchor="middle" font-size="8.4" class="tk">0</text><path d="M326.65 813.5V815.7" stroke="#222" stroke-width="1"/><path d="M350.1 813.5V816.5" stroke="#222" stroke-width="1"/><text transform="translate(350.1 825.1) scale(1.0 1)" text-anchor="middle" font-size="8.4" class="tk">10</text><path d="M373.55 813.5V815.7" stroke="#222" stroke-width="1"/><path d="M397 813.5V816.5" stroke="#222" stroke-width="1"/><text transform="translate(397 825.1) scale(1.0 1)" text-anchor="middle" font-size="8.4" class="tk">20</text><path d="M420.45 813.5V815.7" stroke="#222" stroke-width="1"/><path d="M443.9 813.5V816.5" stroke="#222" stroke-width="1"/><text transform="translate(443.9 825.1) scale(1.0 1)" text-anchor="middle" font-size="8.4" class="tk">30</text><path d="M467.35 813.5V815.7" stroke="#222" stroke-width="1"/><path d="M303.2 717.7 L308.4 725.2 L313 740.8 L317 742.5 L322.2 728.1 L336.1 751.2 L359.5 750 L383 755.5 L401.75 749.5 L420.5 755.5 L439.25 752 L458 751.25 L477 761.25" fill="none" stroke="#58e6a8" stroke-width="2.3" stroke-linejoin="round"/><path d="M303.2 770.2 L307.8 770.2 L310.1 774.2 L312.8 786.9 L317 761.5 L321.7 754 L335.8 776 L359.5 777.5 L383 783 L401.75 782 L420.5 786.25 L439.25 779.5 L458 782.5 L477 791.75" fill="none" stroke="#1818c8" stroke-width="2.0" stroke-linejoin="round"/><path d="M303.2 807.7 L308.2 789.8 L312.4 778.3 L321.7 775.4 L345.3 807.7 L401.75 808 L439.25 805 L477 763.75" fill="none" stroke="#960a20" stroke-width="2.2" stroke-linejoin="round"/><path d="M303.2 720.46L306 715.86L300.4 715.86Z" fill="#58e6a8"/><path d="M308.4 727.96L311.2 723.36L305.6 723.36Z" fill="#58e6a8"/><path d="M313 743.56L315.8 738.96L310.2 738.96Z" fill="#58e6a8"/><path d="M317 745.26L319.8 740.66L314.2 740.66Z" fill="#58e6a8"/><path d="M322.2 730.86L325 726.26L319.4 726.26Z" fill="#58e6a8"/><path d="M336.1 753.96L338.9 749.36L333.3 749.36Z" fill="#58e6a8"/><path d="M359.5 752.76L362.3 748.16L356.7 748.16Z" fill="#58e6a8"/><path d="M383 758.26L385.8 753.66L380.2 753.66Z" fill="#58e6a8"/><path d="M401.75 752.26L404.55 747.66L398.95 747.66Z" fill="#58e6a8"/><path d="M420.5 758.26L423.3 753.66L417.7 753.66Z" fill="#58e6a8"/><path d="M439.25 754.76L442.05 750.16L436.45 750.16Z" fill="#58e6a8"/><path d="M458 754.01L460.8 749.41L455.2 749.41Z" fill="#58e6a8"/><path d="M477 764.01L479.8 759.41L474.2 759.41Z" fill="#58e6a8"/><path d="M303.2 767.62L305.65 771.92L300.75 771.92Z" fill="#fff" stroke="#1818c8" stroke-width="1.3" stroke-linejoin="miter"/><path d="M307.8 767.62L310.25 771.92L305.35 771.92Z" fill="#fff" stroke="#1818c8" stroke-width="1.3" stroke-linejoin="miter"/><path d="M310.1 771.62L312.55 775.92L307.65 775.92Z" fill="#fff" stroke="#1818c8" stroke-width="1.3" stroke-linejoin="miter"/><path d="M312.8 784.32L315.25 788.62L310.35 788.62Z" fill="#fff" stroke="#1818c8" stroke-width="1.3" stroke-linejoin="miter"/><path d="M317 758.92L319.45 763.22L314.55 763.22Z" fill="#fff" stroke="#1818c8" stroke-width="1.3" stroke-linejoin="miter"/><path d="M321.7 751.42L324.15 755.72L319.25 755.72Z" fill="#fff" stroke="#1818c8" stroke-width="1.3" stroke-linejoin="miter"/><path d="M335.8 773.42L338.25 777.72L333.35 777.72Z" fill="#fff" stroke="#1818c8" stroke-width="1.3" stroke-linejoin="miter"/><path d="M359.5 774.92L361.95 779.22L357.05 779.22Z" fill="#fff" stroke="#1818c8" stroke-width="1.3" stroke-linejoin="miter"/><path d="M383 780.42L385.45 784.72L380.55 784.72Z" fill="#fff" stroke="#1818c8" stroke-width="1.3" stroke-linejoin="miter"/><path d="M401.75 779.42L404.2 783.72L399.3 783.72Z" fill="#fff" stroke="#1818c8" stroke-width="1.3" stroke-linejoin="miter"/><path d="M420.5 783.67L422.95 787.97L418.05 787.97Z" fill="#fff" stroke="#1818c8" stroke-width="1.3" stroke-linejoin="miter"/><path d="M439.25 776.92L441.7 781.22L436.8 781.22Z" fill="#fff" stroke="#1818c8" stroke-width="1.3" stroke-linejoin="miter"/><path d="M458 779.92L460.45 784.22L455.55 784.22Z" fill="#fff" stroke="#1818c8" stroke-width="1.3" stroke-linejoin="miter"/><path d="M477 789.17L479.45 793.47L474.55 793.47Z" fill="#fff" stroke="#1818c8" stroke-width="1.3" stroke-linejoin="miter"/><rect x="301.5" y="806" width="3.4" height="3.4" fill="#fff" stroke="#960a20" stroke-width="1.2"/><rect x="306.5" y="788.1" width="3.4" height="3.4" fill="#fff" stroke="#960a20" stroke-width="1.2"/><rect x="310.7" y="776.6" width="3.4" height="3.4" fill="#fff" stroke="#960a20" stroke-width="1.2"/><rect x="320" y="773.7" width="3.4" height="3.4" fill="#fff" stroke="#960a20" stroke-width="1.2"/><rect x="343.6" y="806" width="3.4" height="3.4" fill="#fff" stroke="#960a20" stroke-width="1.2"/><rect x="400.05" y="806.3" width="3.4" height="3.4" fill="#fff" stroke="#960a20" stroke-width="1.2"/><rect x="437.55" y="803.3" width="3.4" height="3.4" fill="#fff" stroke="#960a20" stroke-width="1.2"/><rect x="475.3" y="762.05" width="3.4" height="3.4" fill="#fff" stroke="#960a20" stroke-width="1.2"/><text class="le" transform="translate(306.79 685.24) scale(1.003 1.003)" font-size="25.5" font-weight="bold">J</text><text class="ti" transform="translate(375.62 714.35) scale(0.961 0.943)" font-size="21.5">SM5</text></g>
<g><path d="M53.8 866.2H226.3" fill="none" stroke="#5a5a5a" stroke-width="1.4"/><path d="M226.3 866.2V986.8" fill="none" stroke="#5a5a5a" stroke-width="1.4"/><path d="M53.8 866.2V986.8H226.3" fill="none" stroke="#222" stroke-width="1.4"/><path d="M50.8 986.8H53.8" stroke="#222" stroke-width="1"/><text transform="translate(49.5 989.7) scale(1.0 1)" text-anchor="end" font-size="8.4" class="tk">0</text><path d="M51.6 974.74H53.8" stroke="#222" stroke-width="1"/><path d="M50.8 962.68H53.8" stroke="#222" stroke-width="1"/><text transform="translate(49.5 965.58) scale(1.0 1)" text-anchor="end" font-size="8.4" class="tk">2</text><path d="M51.6 950.62H53.8" stroke="#222" stroke-width="1"/><path d="M50.8 938.56H53.8" stroke="#222" stroke-width="1"/><text transform="translate(49.5 941.46) scale(1.0 1)" text-anchor="end" font-size="8.4" class="tk">4</text><path d="M51.6 926.5H53.8" stroke="#222" stroke-width="1"/><path d="M50.8 914.44H53.8" stroke="#222" stroke-width="1"/><text transform="translate(49.5 917.34) scale(1.0 1)" text-anchor="end" font-size="8.4" class="tk">6</text><path d="M51.6 902.38H53.8" stroke="#222" stroke-width="1"/><path d="M50.8 890.32H53.8" stroke="#222" stroke-width="1"/><text transform="translate(49.5 893.22) scale(1.0 1)" text-anchor="end" font-size="8.4" class="tk">8</text><path d="M51.6 878.26H53.8" stroke="#222" stroke-width="1"/><path d="M50.8 866.2H53.8" stroke="#222" stroke-width="1"/><text transform="translate(49.5 869.1) scale(1.0 1)" text-anchor="end" font-size="8.4" class="tk">10</text><path d="M226.3 982.5H229.3" stroke="#333" stroke-width="1"/><text transform="translate(228.6 984.7) scale(1.0 1)" font-size="8.0" class="tk">0</text><path d="M226.3 963.12H228.5" stroke="#333" stroke-width="1"/><path d="M226.3 943.73H229.3" stroke="#333" stroke-width="1"/><text transform="translate(228.6 945.93) scale(1.0 1)" font-size="8.0" class="tk">2</text><path d="M226.3 924.35H228.5" stroke="#333" stroke-width="1"/><path d="M226.3 904.97H229.3" stroke="#333" stroke-width="1"/><text transform="translate(228.6 907.17) scale(1.0 1)" font-size="8.0" class="tk">4</text><path d="M226.3 885.58H228.5" stroke="#333" stroke-width="1"/><path d="M226.3 866.2H229.3" stroke="#333" stroke-width="1"/><text transform="translate(228.6 868.4) scale(1.0 1)" font-size="8.0" class="tk">6</text><path d="M53.8 986.8V989.8" stroke="#222" stroke-width="1"/><text transform="translate(53.8 998.4) scale(1.0 1)" text-anchor="middle" font-size="8.4" class="tk">0</text><path d="M77.11 986.8V989" stroke="#222" stroke-width="1"/><path d="M100.42 986.8V989.8" stroke="#222" stroke-width="1"/><text transform="translate(100.42 998.4) scale(1.0 1)" text-anchor="middle" font-size="8.4" class="tk">10</text><path d="M123.73 986.8V989" stroke="#222" stroke-width="1"/><path d="M147.04 986.8V989.8" stroke="#222" stroke-width="1"/><text transform="translate(147.04 998.4) scale(1.0 1)" text-anchor="middle" font-size="8.4" class="tk">20</text><path d="M170.35 986.8V989" stroke="#222" stroke-width="1"/><path d="M193.66 986.8V989.8" stroke="#222" stroke-width="1"/><text transform="translate(193.66 998.4) scale(1.0 1)" text-anchor="middle" font-size="8.4" class="tk">30</text><path d="M216.97 986.8V989" stroke="#222" stroke-width="1"/><path d="M53.4 970.3 L58.1 980.4 L63.9 894.2 L72.5 877.4 L99.8 974.3 L110 976.25 L152.5 966.25 L170.5 953 L189.5 957.5 L226.75 949.5" fill="none" stroke="#6cdc3c" stroke-width="2.2" stroke-linejoin="round"/><path d="M53.4 977.7 L58.5 981.7 L62.8 972.3 L72.2 962.2 L100.5 977 L110 966.25 L170.5 962 L189.5 965 L208 955 L226.75 962" fill="none" stroke="#108418" stroke-width="2.1" stroke-linejoin="round"/><path d="M54.1 982.8 L58.8 982.8 L63.1 876.5 L72.2 914.4 L95.4 982.8 L151.25 947 L189.5 894.25 L226.75 921.25" fill="none" stroke="#960a20" stroke-width="2.2" stroke-linejoin="round"/><circle cx="53.4" cy="970.3" r="2.2" fill="#6cdc3c"/><circle cx="58.1" cy="980.4" r="2.2" fill="#6cdc3c"/><circle cx="63.9" cy="894.2" r="2.2" fill="#6cdc3c"/><circle cx="72.5" cy="877.4" r="2.2" fill="#6cdc3c"/><circle cx="99.8" cy="974.3" r="2.2" fill="#6cdc3c"/><circle cx="110" cy="976.25" r="2.2" fill="#6cdc3c"/><circle cx="152.5" cy="966.25" r="2.2" fill="#6cdc3c"/><circle cx="170.5" cy="953" r="2.2" fill="#6cdc3c"/><circle cx="189.5" cy="957.5" r="2.2" fill="#6cdc3c"/><circle cx="226.75" cy="949.5" r="2.2" fill="#6cdc3c"/><circle cx="53.4" cy="977.7" r="2.0" fill="#fff" stroke="#108418" stroke-width="1.2"/><circle cx="58.5" cy="981.7" r="2.0" fill="#fff" stroke="#108418" stroke-width="1.2"/><circle cx="62.8" cy="972.3" r="2.0" fill="#fff" stroke="#108418" stroke-width="1.2"/><circle cx="72.2" cy="962.2" r="2.0" fill="#fff" stroke="#108418" stroke-width="1.2"/><circle cx="100.5" cy="977" r="2.0" fill="#fff" stroke="#108418" stroke-width="1.2"/><circle cx="110" cy="966.25" r="2.0" fill="#fff" stroke="#108418" stroke-width="1.2"/><circle cx="170.5" cy="962" r="2.0" fill="#fff" stroke="#108418" stroke-width="1.2"/><circle cx="189.5" cy="965" r="2.0" fill="#fff" stroke="#108418" stroke-width="1.2"/><circle cx="208" cy="955" r="2.0" fill="#fff" stroke="#108418" stroke-width="1.2"/><circle cx="226.75" cy="962" r="2.0" fill="#fff" stroke="#108418" stroke-width="1.2"/><rect x="52.4" y="981.1" width="3.4" height="3.4" fill="#fff" stroke="#960a20" stroke-width="1.2"/><rect x="57.1" y="981.1" width="3.4" height="3.4" fill="#fff" stroke="#960a20" stroke-width="1.2"/><rect x="61.4" y="874.8" width="3.4" height="3.4" fill="#fff" stroke="#960a20" stroke-width="1.2"/><rect x="70.5" y="912.7" width="3.4" height="3.4" fill="#fff" stroke="#960a20" stroke-width="1.2"/><rect x="93.7" y="981.1" width="3.4" height="3.4" fill="#fff" stroke="#960a20" stroke-width="1.2"/><rect x="149.55" y="945.3" width="3.4" height="3.4" fill="#fff" stroke="#960a20" stroke-width="1.2"/><rect x="187.8" y="892.55" width="3.4" height="3.4" fill="#fff" stroke="#960a20" stroke-width="1.2"/><rect x="225.05" y="919.55" width="3.4" height="3.4" fill="#fff" stroke="#960a20" stroke-width="1.2"/><text class="le" transform="translate(55.32 859.30) scale(0.995 0.995)" font-size="25.5" font-weight="bold">K</text><text class="ti" transform="translate(120.82 888.54) scale(0.956 0.956)" font-size="21.5">SM6</text></g>
<g><path d="M303.2 865.1H476.6" fill="none" stroke="#607068" stroke-width="1.4"/><path d="M476.6 865.1V985.6" fill="none" stroke="#4a4a4a" stroke-width="1.4"/><path d="M303.2 865.1V985.6H476.6" fill="none" stroke="#222" stroke-width="1.4"/><path d="M300.2 985.6H303.2" stroke="#222" stroke-width="1"/><text transform="translate(298.5 988.5) scale(1.0 1)" text-anchor="end" font-size="8.4" class="tk">0</text><path d="M301 970.54H303.2" stroke="#222" stroke-width="1"/><path d="M300.2 955.48H303.2" stroke="#222" stroke-width="1"/><text transform="translate(298.5 958.38) scale(1.0 1)" text-anchor="end" font-size="8.4" class="tk">500</text><path d="M301 940.41H303.2" stroke="#222" stroke-width="1"/><path d="M300.2 925.35H303.2" stroke="#222" stroke-width="1"/><text transform="translate(298.5 928.25) scale(1.0 1)" text-anchor="end" font-size="8.4" class="tk">1000</text><path d="M301 910.29H303.2" stroke="#222" stroke-width="1"/><path d="M300.2 895.23H303.2" stroke="#222" stroke-width="1"/><text transform="translate(298.5 898.12) scale(1.0 1)" text-anchor="end" font-size="8.4" class="tk">1500</text><path d="M301 880.16H303.2" stroke="#222" stroke-width="1"/><path d="M300.2 865.1H303.2" stroke="#222" stroke-width="1"/><text transform="translate(298.5 868) scale(1.0 1)" text-anchor="end" font-size="8.4" class="tk">2000</text><path d="M476.6 971.8H479.6" stroke="#333" stroke-width="1"/><text transform="translate(479.6 974) scale(1.0 1)" font-size="8.0" class="tk">0</text><path d="M476.6 954.02H478.8" stroke="#333" stroke-width="1"/><path d="M476.6 936.23H479.6" stroke="#333" stroke-width="1"/><text transform="translate(479.6 938.43) scale(1.0 1)" font-size="8.0" class="tk">2</text><path d="M476.6 918.45H478.8" stroke="#333" stroke-width="1"/><path d="M476.6 900.67H479.6" stroke="#333" stroke-width="1"/><text transform="translate(479.6 902.87) scale(1.0 1)" font-size="8.0" class="tk">4</text><path d="M476.6 882.88H478.8" stroke="#333" stroke-width="1"/><path d="M476.6 865.1H479.6" stroke="#333" stroke-width="1"/><text transform="translate(479.6 867.3) scale(1.0 1)" font-size="8.0" class="tk">6</text><path d="M303.2 985.6V988.6" stroke="#222" stroke-width="1"/><text transform="translate(303.2 997.2) scale(1.0 1)" text-anchor="middle" font-size="8.4" class="tk">0</text><path d="M326.61 985.6V987.8" stroke="#222" stroke-width="1"/><path d="M350.02 985.6V988.6" stroke="#222" stroke-width="1"/><text transform="translate(350.02 997.2) scale(1.0 1)" text-anchor="middle" font-size="8.4" class="tk">10</text><path d="M373.43 985.6V987.8" stroke="#222" stroke-width="1"/><path d="M396.84 985.6V988.6" stroke="#222" stroke-width="1"/><text transform="translate(396.84 997.2) scale(1.0 1)" text-anchor="middle" font-size="8.4" class="tk">20</text><path d="M420.25 985.6V987.8" stroke="#222" stroke-width="1"/><path d="M443.66 985.6V988.6" stroke="#222" stroke-width="1"/><text transform="translate(443.66 997.2) scale(1.0 1)" text-anchor="middle" font-size="8.4" class="tk">30</text><path d="M467.07 985.6V987.8" stroke="#222" stroke-width="1"/><path d="M303.3 897 L308.8 906.3 L312 935 L317.3 943.8 L322 937.4 L335.5 940.3 L359.5 913 L383.75 936.25 L401.75 927.5 L420.5 927.5 L439.25 932.5 L458 927.5 L477 930.5" fill="none" stroke="#58e6a8" stroke-width="2.3" stroke-linejoin="round"/><path d="M303.3 918 L307.1 910.4 L310.7 948 L312.6 931 L316.75 925 L322 928 L336.1 927.4 L359.5 908.75 L383.75 937 L401.75 914.5 L420 917 L439.25 926.25 L458 925 L477 924.5" fill="none" stroke="#1818c8" stroke-width="2.0" stroke-linejoin="round"/><path d="M303.3 971.4 L308.3 971.4 L312.6 874.7 L322 908.7 L345.5 971.7 L401.75 938.75 L439.25 891.25 L477 915.75" fill="none" stroke="#960a20" stroke-width="2.2" stroke-linejoin="round"/><path d="M303.3 899.76L306.1 895.16L300.5 895.16Z" fill="#58e6a8"/><path d="M308.8 909.06L311.6 904.46L306 904.46Z" fill="#58e6a8"/><path d="M312 937.76L314.8 933.16L309.2 933.16Z" fill="#58e6a8"/><path d="M317.3 946.56L320.1 941.96L314.5 941.96Z" fill="#58e6a8"/><path d="M322 940.16L324.8 935.56L319.2 935.56Z" fill="#58e6a8"/><path d="M335.5 943.06L338.3 938.46L332.7 938.46Z" fill="#58e6a8"/><path d="M359.5 915.76L362.3 911.16L356.7 911.16Z" fill="#58e6a8"/><path d="M383.75 939.01L386.55 934.41L380.95 934.41Z" fill="#58e6a8"/><path d="M401.75 930.26L404.55 925.66L398.95 925.66Z" fill="#58e6a8"/><path d="M420.5 930.26L423.3 925.66L417.7 925.66Z" fill="#58e6a8"/><path d="M439.25 935.26L442.05 930.66L436.45 930.66Z" fill="#58e6a8"/><path d="M458 930.26L460.8 925.66L455.2 925.66Z" fill="#58e6a8"/><path d="M477 933.26L479.8 928.66L474.2 928.66Z" fill="#58e6a8"/><path d="M303.3 915.42L305.75 919.72L300.85 919.72Z" fill="#fff" stroke="#1818c8" stroke-width="1.3" stroke-linejoin="miter"/><path d="M307.1 907.82L309.55 912.12L304.65 912.12Z" fill="#fff" stroke="#1818c8" stroke-width="1.3" stroke-linejoin="miter"/><path d="M310.7 945.42L313.15 949.72L308.25 949.72Z" fill="#fff" stroke="#1818c8" stroke-width="1.3" stroke-linejoin="miter"/><path d="M312.6 928.42L315.05 932.72L310.15 932.72Z" fill="#fff" stroke="#1818c8" stroke-width="1.3" stroke-linejoin="miter"/><path d="M316.75 922.42L319.2 926.72L314.3 926.72Z" fill="#fff" stroke="#1818c8" stroke-width="1.3" stroke-linejoin="miter"/><path d="M322 925.42L324.45 929.72L319.55 929.72Z" fill="#fff" stroke="#1818c8" stroke-width="1.3" stroke-linejoin="miter"/><path d="M336.1 924.82L338.55 929.12L333.65 929.12Z" fill="#fff" stroke="#1818c8" stroke-width="1.3" stroke-linejoin="miter"/><path d="M359.5 906.17L361.95 910.47L357.05 910.47Z" fill="#fff" stroke="#1818c8" stroke-width="1.3" stroke-linejoin="miter"/><path d="M383.75 934.42L386.2 938.72L381.3 938.72Z" fill="#fff" stroke="#1818c8" stroke-width="1.3" stroke-linejoin="miter"/><path d="M401.75 911.92L404.2 916.22L399.3 916.22Z" fill="#fff" stroke="#1818c8" stroke-width="1.3" stroke-linejoin="miter"/><path d="M420 914.42L422.45 918.72L417.55 918.72Z" fill="#fff" stroke="#1818c8" stroke-width="1.3" stroke-linejoin="miter"/><path d="M439.25 923.67L441.7 927.97L436.8 927.97Z" fill="#fff" stroke="#1818c8" stroke-width="1.3" stroke-linejoin="miter"/><path d="M458 922.42L460.45 926.72L455.55 926.72Z" fill="#fff" stroke="#1818c8" stroke-width="1.3" stroke-linejoin="miter"/><path d="M477 921.92L479.45 926.22L474.55 926.22Z" fill="#fff" stroke="#1818c8" stroke-width="1.3" stroke-linejoin="miter"/><rect x="301.6" y="969.7" width="3.4" height="3.4" fill="#fff" stroke="#960a20" stroke-width="1.2"/><rect x="306.6" y="969.7" width="3.4" height="3.4" fill="#fff" stroke="#960a20" stroke-width="1.2"/><rect x="310.9" y="873" width="3.4" height="3.4" fill="#fff" stroke="#960a20" stroke-width="1.2"/><rect x="320.3" y="907" width="3.4" height="3.4" fill="#fff" stroke="#960a20" stroke-width="1.2"/><rect x="343.8" y="970" width="3.4" height="3.4" fill="#fff" stroke="#960a20" stroke-width="1.2"/><rect x="400.05" y="937.05" width="3.4" height="3.4" fill="#fff" stroke="#960a20" stroke-width="1.2"/><rect x="437.55" y="889.55" width="3.4" height="3.4" fill="#fff" stroke="#960a20" stroke-width="1.2"/><rect x="475.3" y="914.05" width="3.4" height="3.4" fill="#fff" stroke="#960a20" stroke-width="1.2"/><text class="le" transform="translate(305.38 858.50) scale(1.006 1.006)" font-size="25.5" font-weight="bold">L</text><text class="ti" transform="translate(374.93 885.65) scale(0.949 0.924)" font-size="21.5">SM6</text></g>
<text transform="translate(19.1 675.3) rotate(-90)" font-size="21.38" class="ax">% Ki67+CD4+ &amp; % Ki67+CD8+ T cells</text>
<text transform="translate(267.5 660) rotate(-90)" font-size="21.5" class="ax">CD4+ &amp; CD8+ T cells/ &#956;L of blood</text>
<text transform="translate(512.7 597.7) rotate(-90)" font-size="21.35" class="ax">IL-7 (pg/mL of plasma)</text>
<text x="179.5" y="1020.6" font-size="20" class="ax">Weeks after infection</text>
</svg>
</body></html>
